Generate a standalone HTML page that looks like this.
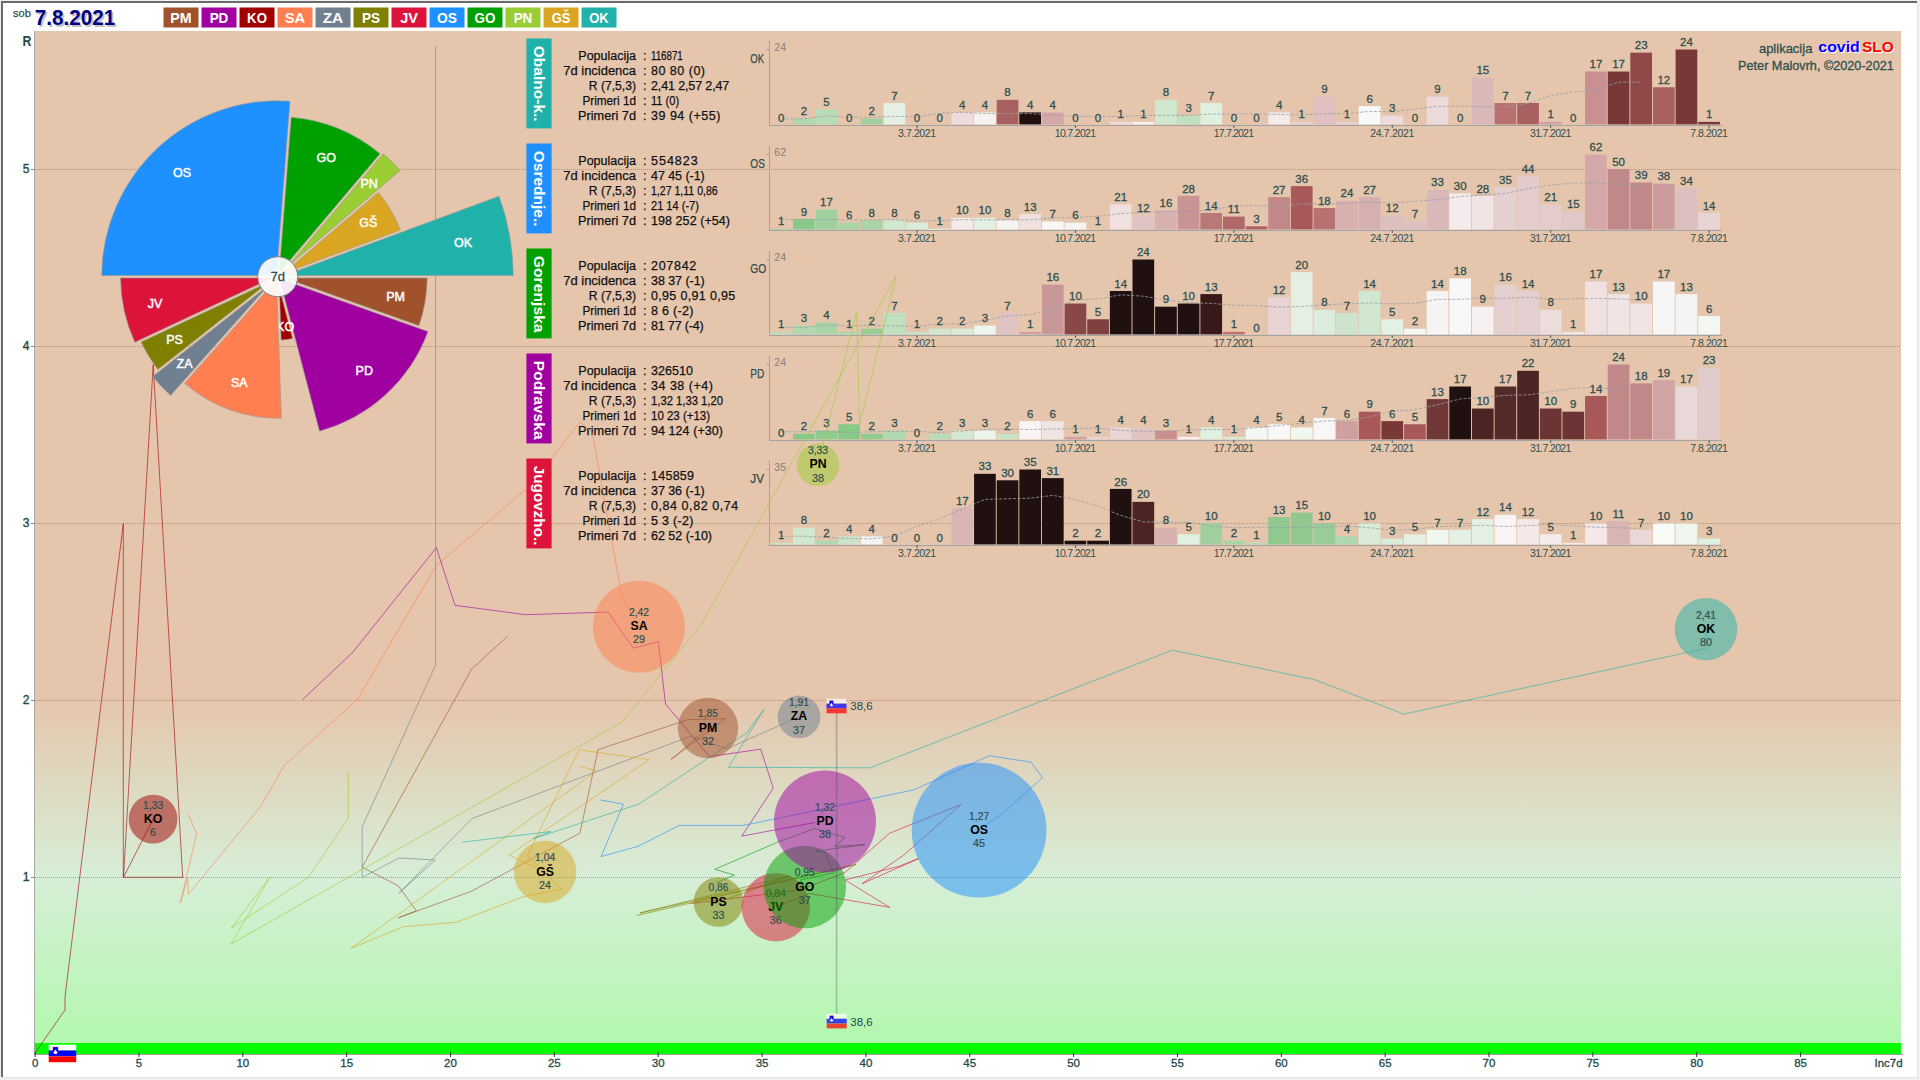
<!DOCTYPE html><html><head><meta charset="utf-8"><title>covidSLO</title><style>
html,body{margin:0;padding:0;background:#f0f0f0;}
body{width:1920px;height:1080px;overflow:hidden;position:relative;font-family:"Liberation Sans", sans-serif;}
svg{position:absolute;left:0;top:0;}
svg text{font-family:"Liberation Sans", sans-serif;}
</style></head><body>
<svg width="1920" height="1080" viewBox="0 0 1920 1080">
<defs>
<linearGradient id="bgg" x1="0" y1="31" x2="0" y2="1043" gradientUnits="userSpaceOnUse"><stop offset="0" stop-color="#E5C6AD"/><stop offset="0.6611" stop-color="#E5C6AD"/><stop offset="0.8360" stop-color="#D7EED7"/><stop offset="1" stop-color="#B2F8AE"/></linearGradient>
<clipPath id="plotclip"><rect x="35" y="31" width="1866" height="1023"/></clipPath>
</defs>
<rect x="1" y="1" width="1917" height="1077" fill="#ffffff"/>
<rect x="1" y="1" width="1917" height="2" fill="#6a6a6a"/>
<rect x="1" y="1" width="2" height="1077" fill="#6a6a6a"/>
<rect x="1917" y="1" width="1" height="1077" fill="#e3e3e3"/>
<rect x="1" y="1077" width="1917" height="1" fill="#e3e3e3"/>
<text x="13" y="17.4" font-size="11" fill="#2F4F4F" stroke="#2F4F4F" stroke-width="0.25" textLength="17.8" lengthAdjust="spacingAndGlyphs">sob</text>
<text x="36.4" y="26.8" font-size="22" font-weight="bold" fill="#c4c4c4" textLength="80.5" lengthAdjust="spacingAndGlyphs">7.8.2021</text>
<text x="34.8" y="25.3" font-size="22" font-weight="bold" fill="#000080" textLength="80.5" lengthAdjust="spacingAndGlyphs">7.8.2021</text>
<rect x="163.5" y="7.5" width="35" height="20" fill="#A0522D"/>
<text x="181" y="23.1" font-size="15.5" font-weight="bold" fill="#fff" text-anchor="middle" textLength="21.3" lengthAdjust="spacingAndGlyphs">PM</text>
<rect x="201.5" y="7.5" width="35" height="20" fill="#A000A0"/>
<text x="219" y="23.1" font-size="15.5" font-weight="bold" fill="#fff" text-anchor="middle" textLength="18.7" lengthAdjust="spacingAndGlyphs">PD</text>
<rect x="239.5" y="7.5" width="35" height="20" fill="#A00000"/>
<text x="257" y="23.1" font-size="15.5" font-weight="bold" fill="#fff" text-anchor="middle" textLength="19.8" lengthAdjust="spacingAndGlyphs">KO</text>
<rect x="277.5" y="7.5" width="35" height="20" fill="#FF7F50"/>
<text x="295" y="23.1" font-size="15.5" font-weight="bold" fill="#fff" text-anchor="middle" textLength="20.6" lengthAdjust="spacingAndGlyphs">SA</text>
<rect x="315.5" y="7.5" width="35" height="20" fill="#708090"/>
<text x="333" y="23.1" font-size="15.5" font-weight="bold" fill="#fff" text-anchor="middle" textLength="20.6" lengthAdjust="spacingAndGlyphs">ZA</text>
<rect x="353.5" y="7.5" width="35" height="20" fill="#808000"/>
<text x="371" y="23.1" font-size="15.5" font-weight="bold" fill="#fff" text-anchor="middle" textLength="18.1" lengthAdjust="spacingAndGlyphs">PS</text>
<rect x="391.5" y="7.5" width="35" height="20" fill="#DC143C"/>
<text x="409" y="23.1" font-size="15.5" font-weight="bold" fill="#fff" text-anchor="middle" textLength="17.75" lengthAdjust="spacingAndGlyphs">JV</text>
<rect x="429.5" y="7.5" width="35" height="20" fill="#1E90FF"/>
<text x="447" y="23.1" font-size="15.5" font-weight="bold" fill="#fff" text-anchor="middle" textLength="20" lengthAdjust="spacingAndGlyphs">OS</text>
<rect x="467.5" y="7.5" width="35" height="20" fill="#00A000"/>
<text x="485" y="23.1" font-size="15.5" font-weight="bold" fill="#fff" text-anchor="middle" textLength="20.9" lengthAdjust="spacingAndGlyphs">GO</text>
<rect x="505.5" y="7.5" width="35" height="20" fill="#9ACD32"/>
<text x="523" y="23.1" font-size="15.5" font-weight="bold" fill="#fff" text-anchor="middle" textLength="18.75" lengthAdjust="spacingAndGlyphs">PN</text>
<rect x="543.5" y="7.5" width="35" height="20" fill="#DAA520"/>
<text x="561" y="23.1" font-size="15.5" font-weight="bold" fill="#fff" text-anchor="middle" textLength="18.75" lengthAdjust="spacingAndGlyphs">GŠ</text>
<rect x="581.5" y="7.5" width="35" height="20" fill="#20B2AA"/>
<text x="599" y="23.1" font-size="15.5" font-weight="bold" fill="#fff" text-anchor="middle" textLength="19.4" lengthAdjust="spacingAndGlyphs">OK</text>
<rect x="35" y="31" width="1866" height="1012" fill="url(#bgg)"/>
<rect x="35" y="1043" width="1866" height="11" fill="#00FF00"/>
<rect x="34" y="31" width="1" height="1024" fill="#a8a8a8"/>
<rect x="35" y="1054" width="1868" height="1" fill="#a0a0a0"/>
<line x1="35" y1="877.5" x2="1901" y2="877.5" stroke="#8c8c94" stroke-width="1" stroke-dasharray="1 1" opacity="0.8"/>
<line x1="31" y1="877.5" x2="34" y2="877.5" stroke="#888" stroke-width="1"/>
<text x="29.5" y="881.1" font-size="12" fill="#1F4A48" stroke="#1F4A48" stroke-width="0.35" text-anchor="end">1</text>
<line x1="35" y1="700.5" x2="1901" y2="700.5" stroke="#8c8c94" stroke-width="1" stroke-dasharray="1 1" opacity="0.8"/>
<line x1="31" y1="700.5" x2="34" y2="700.5" stroke="#888" stroke-width="1"/>
<text x="29.5" y="704.1" font-size="12" fill="#1F4A48" stroke="#1F4A48" stroke-width="0.35" text-anchor="end">2</text>
<line x1="35" y1="523.5" x2="1901" y2="523.5" stroke="#8c8c94" stroke-width="1" stroke-dasharray="1 1" opacity="0.8"/>
<line x1="31" y1="523.5" x2="34" y2="523.5" stroke="#888" stroke-width="1"/>
<text x="29.5" y="527.1" font-size="12" fill="#1F4A48" stroke="#1F4A48" stroke-width="0.35" text-anchor="end">3</text>
<line x1="35" y1="346.5" x2="1901" y2="346.5" stroke="#8c8c94" stroke-width="1" stroke-dasharray="1 1" opacity="0.8"/>
<line x1="31" y1="346.5" x2="34" y2="346.5" stroke="#888" stroke-width="1"/>
<text x="29.5" y="350.1" font-size="12" fill="#1F4A48" stroke="#1F4A48" stroke-width="0.35" text-anchor="end">4</text>
<line x1="35" y1="169.5" x2="1901" y2="169.5" stroke="#8c8c94" stroke-width="1" stroke-dasharray="1 1" opacity="0.8"/>
<line x1="31" y1="169.5" x2="34" y2="169.5" stroke="#888" stroke-width="1"/>
<text x="29.5" y="173.1" font-size="12" fill="#1F4A48" stroke="#1F4A48" stroke-width="0.35" text-anchor="end">5</text>
<text x="22.4" y="45.8" font-size="15.5" font-weight="bold" fill="#1F4A48" textLength="8.9" lengthAdjust="spacingAndGlyphs">R</text>
<line x1="35.1" y1="1052" x2="35.1" y2="1057" stroke="#333" stroke-width="1"/>
<text x="35.1" y="1067.3" font-size="11.5" fill="#1F4A48" stroke="#1F4A48" stroke-width="0.3" text-anchor="middle">0</text>
<line x1="138.95" y1="1052" x2="138.95" y2="1057" stroke="#333" stroke-width="1"/>
<text x="138.95" y="1067.3" font-size="11.5" fill="#1F4A48" stroke="#1F4A48" stroke-width="0.3" text-anchor="middle">5</text>
<line x1="242.8" y1="1052" x2="242.8" y2="1057" stroke="#333" stroke-width="1"/>
<text x="242.8" y="1067.3" font-size="11.5" fill="#1F4A48" stroke="#1F4A48" stroke-width="0.3" text-anchor="middle">10</text>
<line x1="346.65" y1="1052" x2="346.65" y2="1057" stroke="#333" stroke-width="1"/>
<text x="346.65" y="1067.3" font-size="11.5" fill="#1F4A48" stroke="#1F4A48" stroke-width="0.3" text-anchor="middle">15</text>
<line x1="450.5" y1="1052" x2="450.5" y2="1057" stroke="#333" stroke-width="1"/>
<text x="450.5" y="1067.3" font-size="11.5" fill="#1F4A48" stroke="#1F4A48" stroke-width="0.3" text-anchor="middle">20</text>
<line x1="554.35" y1="1052" x2="554.35" y2="1057" stroke="#333" stroke-width="1"/>
<text x="554.35" y="1067.3" font-size="11.5" fill="#1F4A48" stroke="#1F4A48" stroke-width="0.3" text-anchor="middle">25</text>
<line x1="658.2" y1="1052" x2="658.2" y2="1057" stroke="#333" stroke-width="1"/>
<text x="658.2" y="1067.3" font-size="11.5" fill="#1F4A48" stroke="#1F4A48" stroke-width="0.3" text-anchor="middle">30</text>
<line x1="762.05" y1="1052" x2="762.05" y2="1057" stroke="#333" stroke-width="1"/>
<text x="762.05" y="1067.3" font-size="11.5" fill="#1F4A48" stroke="#1F4A48" stroke-width="0.3" text-anchor="middle">35</text>
<line x1="865.9" y1="1052" x2="865.9" y2="1057" stroke="#333" stroke-width="1"/>
<text x="865.9" y="1067.3" font-size="11.5" fill="#1F4A48" stroke="#1F4A48" stroke-width="0.3" text-anchor="middle">40</text>
<line x1="969.75" y1="1052" x2="969.75" y2="1057" stroke="#333" stroke-width="1"/>
<text x="969.75" y="1067.3" font-size="11.5" fill="#1F4A48" stroke="#1F4A48" stroke-width="0.3" text-anchor="middle">45</text>
<line x1="1073.6" y1="1052" x2="1073.6" y2="1057" stroke="#333" stroke-width="1"/>
<text x="1073.6" y="1067.3" font-size="11.5" fill="#1F4A48" stroke="#1F4A48" stroke-width="0.3" text-anchor="middle">50</text>
<line x1="1177.45" y1="1052" x2="1177.45" y2="1057" stroke="#333" stroke-width="1"/>
<text x="1177.45" y="1067.3" font-size="11.5" fill="#1F4A48" stroke="#1F4A48" stroke-width="0.3" text-anchor="middle">55</text>
<line x1="1281.3" y1="1052" x2="1281.3" y2="1057" stroke="#333" stroke-width="1"/>
<text x="1281.3" y="1067.3" font-size="11.5" fill="#1F4A48" stroke="#1F4A48" stroke-width="0.3" text-anchor="middle">60</text>
<line x1="1385.15" y1="1052" x2="1385.15" y2="1057" stroke="#333" stroke-width="1"/>
<text x="1385.15" y="1067.3" font-size="11.5" fill="#1F4A48" stroke="#1F4A48" stroke-width="0.3" text-anchor="middle">65</text>
<line x1="1489" y1="1052" x2="1489" y2="1057" stroke="#333" stroke-width="1"/>
<text x="1489" y="1067.3" font-size="11.5" fill="#1F4A48" stroke="#1F4A48" stroke-width="0.3" text-anchor="middle">70</text>
<line x1="1592.85" y1="1052" x2="1592.85" y2="1057" stroke="#333" stroke-width="1"/>
<text x="1592.85" y="1067.3" font-size="11.5" fill="#1F4A48" stroke="#1F4A48" stroke-width="0.3" text-anchor="middle">75</text>
<line x1="1696.7" y1="1052" x2="1696.7" y2="1057" stroke="#333" stroke-width="1"/>
<text x="1696.7" y="1067.3" font-size="11.5" fill="#1F4A48" stroke="#1F4A48" stroke-width="0.3" text-anchor="middle">80</text>
<line x1="1800.55" y1="1052" x2="1800.55" y2="1057" stroke="#333" stroke-width="1"/>
<text x="1800.55" y="1067.3" font-size="11.5" fill="#1F4A48" stroke="#1F4A48" stroke-width="0.3" text-anchor="middle">85</text>
<text x="1902.5" y="1067.3" font-size="11.5" fill="#1F4A48" stroke="#1F4A48" stroke-width="0.3" text-anchor="end" textLength="28" lengthAdjust="spacingAndGlyphs">Inc7d</text>
<text x="636" y="59.8" font-size="12.5" fill="#111" stroke="#111" stroke-width="0.25" text-anchor="end" textLength="57.7" lengthAdjust="spacingAndGlyphs">Populacija</text>
<text x="643" y="59.8" font-size="12.5" fill="#111" stroke="#111" stroke-width="0.25">:</text>
<text x="651" y="59.8" font-size="12.5" fill="#111" stroke="#111" stroke-width="0.25" textLength="31.8" lengthAdjust="spacingAndGlyphs">116871</text>
<text x="636" y="74.8" font-size="12.5" fill="#111" stroke="#111" stroke-width="0.25" text-anchor="end" textLength="72.7" lengthAdjust="spacingAndGlyphs">7d incidenca</text>
<text x="643" y="74.8" font-size="12.5" fill="#111" stroke="#111" stroke-width="0.25">:</text>
<text x="651" y="74.8" font-size="12.5" fill="#111" stroke="#111" stroke-width="0.25" textLength="54" lengthAdjust="spacing">80 80 (0)</text>
<text x="636" y="89.8" font-size="12.5" fill="#111" stroke="#111" stroke-width="0.25" text-anchor="end" textLength="47.2" lengthAdjust="spacingAndGlyphs">R (7,5,3)</text>
<text x="643" y="89.8" font-size="12.5" fill="#111" stroke="#111" stroke-width="0.25">:</text>
<text x="651" y="89.8" font-size="12.5" fill="#111" stroke="#111" stroke-width="0.25" textLength="78.3" lengthAdjust="spacing">2,41 2,57 2,47</text>
<text x="636" y="104.8" font-size="12.5" fill="#111" stroke="#111" stroke-width="0.25" text-anchor="end" textLength="53.6" lengthAdjust="spacingAndGlyphs">Primeri 1d</text>
<text x="643" y="104.8" font-size="12.5" fill="#111" stroke="#111" stroke-width="0.25">:</text>
<text x="651" y="104.8" font-size="12.5" fill="#111" stroke="#111" stroke-width="0.25" textLength="28.2" lengthAdjust="spacingAndGlyphs">11 (0)</text>
<text x="636" y="119.8" font-size="12.5" fill="#111" stroke="#111" stroke-width="0.25" text-anchor="end" textLength="58" lengthAdjust="spacingAndGlyphs">Primeri 7d</text>
<text x="643" y="119.8" font-size="12.5" fill="#111" stroke="#111" stroke-width="0.25">:</text>
<text x="651" y="119.8" font-size="12.5" fill="#111" stroke="#111" stroke-width="0.25" textLength="69.3" lengthAdjust="spacing">39 94 (+55)</text>
<rect x="769" y="40.5" width="1" height="85.5" fill="#a0a4a8"/>
<rect x="769" y="125" width="953" height="1" fill="#a0a4a8"/>
<line x1="766.5" y1="49.5" x2="769" y2="49.5" stroke="#a0a4a8" stroke-width="1"/>
<text x="774.3" y="51" font-size="10.5" fill="#808080">24</text>
<text x="750.3" y="63.2" font-size="12" fill="#2F4F4F" stroke="#2F4F4F" stroke-width="0.25" textLength="13.7" lengthAdjust="spacingAndGlyphs">OK</text>
<rect x="793.03" y="118.71" width="21.7" height="5.69" fill="#b0d8b0"/>
<rect x="815.66" y="109.27" width="21.7" height="15.13" fill="#b8dcb8"/>
<rect x="860.92" y="118.71" width="21.7" height="5.69" fill="#a0d0a0"/>
<rect x="883.55" y="102.98" width="21.7" height="21.42" fill="#e4f0e4"/>
<rect x="951.44" y="112.42" width="21.7" height="11.98" fill="#eedcdc"/>
<rect x="974.07" y="112.42" width="21.7" height="11.98" fill="#f6f2f2"/>
<rect x="996.7" y="99.83" width="21.7" height="24.57" fill="#a86060"/>
<rect x="1019.33" y="112.42" width="21.7" height="11.98" fill="#201010"/>
<rect x="1041.96" y="112.42" width="21.7" height="11.98" fill="#d4a8a8"/>
<rect x="1109.85" y="121.85" width="21.7" height="2.55" fill="#eedcdc"/>
<rect x="1132.48" y="121.85" width="21.7" height="2.55" fill="#f6f0f0"/>
<rect x="1155.11" y="99.83" width="21.7" height="24.57" fill="#d0e8d0"/>
<rect x="1177.74" y="115.56" width="21.7" height="8.84" fill="#c0e0c0"/>
<rect x="1200.37" y="102.98" width="21.7" height="21.42" fill="#e0f0e0"/>
<rect x="1268.26" y="112.42" width="21.7" height="11.98" fill="#f4eaea"/>
<rect x="1290.89" y="121.85" width="21.7" height="2.55" fill="#e8d0d0"/>
<rect x="1313.52" y="96.69" width="21.7" height="27.71" fill="#e0c0c0"/>
<rect x="1336.15" y="121.85" width="21.7" height="2.55" fill="#e8d0d0"/>
<rect x="1358.78" y="106.12" width="21.7" height="18.28" fill="#f8f8f8"/>
<rect x="1381.41" y="115.56" width="21.7" height="8.84" fill="#ecdcdc"/>
<rect x="1426.67" y="96.69" width="21.7" height="27.71" fill="#ecdada"/>
<rect x="1471.93" y="77.81" width="21.7" height="46.59" fill="#d8b8b8"/>
<rect x="1494.56" y="102.98" width="21.7" height="21.42" fill="#b87070"/>
<rect x="1517.19" y="102.98" width="21.7" height="21.42" fill="#a86060"/>
<rect x="1539.82" y="121.85" width="21.7" height="2.55" fill="#d0a0a0"/>
<rect x="1585.08" y="71.52" width="21.7" height="52.88" fill="#c89090"/>
<rect x="1607.71" y="71.52" width="21.7" height="52.88" fill="#783838"/>
<rect x="1630.34" y="52.65" width="21.7" height="71.75" fill="#904848"/>
<rect x="1652.97" y="87.25" width="21.7" height="37.15" fill="#a86060"/>
<rect x="1675.6" y="49.5" width="21.7" height="74.9" fill="#783838"/>
<rect x="1698.23" y="121.85" width="21.7" height="2.55" fill="#783838"/>
<polyline points="781.25,118.89 803.88,118.74 826.51,116.01 849.14,117.21 871.77,117.21 894.4,116.31 917.03,116.76 939.66,113.16 962.29,112.27 984.92,113.61 1007.55,113.61 1030.18,113.61 1052.81,114.96 1075.44,116.31 1098.07,116.31 1120.7,116.76 1143.33,115.41 1165.96,115.41 1188.59,115.41 1211.22,114.06 1233.85,114.06 1256.48,113.61 1279.11,114.51 1301.74,114.96 1324.37,113.61 1347,113.61 1369.63,111.37 1392.26,111.82 1414.89,109.12 1437.52,106.42 1460.15,105.97 1482.78,106.87 1505.41,106.87 1528.04,103.28 1550.67,95.64 1573.3,92.04 1595.93,89.8 1618.56,82.16 1641.19,82.16" fill="none" stroke="#98a0a8" stroke-width="1" stroke-dasharray="3 1.6" opacity="0.8"/>
<text x="781.25" y="121.6" font-size="11.5" fill="#2F4F4F" stroke="#2F4F4F" stroke-width="0.3" text-anchor="middle">0</text>
<text x="803.88" y="115.31" font-size="11.5" fill="#2F4F4F" stroke="#2F4F4F" stroke-width="0.3" text-anchor="middle">2</text>
<text x="826.51" y="105.87" font-size="11.5" fill="#2F4F4F" stroke="#2F4F4F" stroke-width="0.3" text-anchor="middle">5</text>
<text x="849.14" y="121.6" font-size="11.5" fill="#2F4F4F" stroke="#2F4F4F" stroke-width="0.3" text-anchor="middle">0</text>
<text x="871.77" y="115.31" font-size="11.5" fill="#2F4F4F" stroke="#2F4F4F" stroke-width="0.3" text-anchor="middle">2</text>
<text x="894.4" y="99.58" font-size="11.5" fill="#2F4F4F" stroke="#2F4F4F" stroke-width="0.3" text-anchor="middle">7</text>
<text x="917.03" y="121.6" font-size="11.5" fill="#2F4F4F" stroke="#2F4F4F" stroke-width="0.3" text-anchor="middle">0</text>
<text x="939.66" y="121.6" font-size="11.5" fill="#2F4F4F" stroke="#2F4F4F" stroke-width="0.3" text-anchor="middle">0</text>
<text x="962.29" y="109.02" font-size="11.5" fill="#2F4F4F" stroke="#2F4F4F" stroke-width="0.3" text-anchor="middle">4</text>
<text x="984.92" y="109.02" font-size="11.5" fill="#2F4F4F" stroke="#2F4F4F" stroke-width="0.3" text-anchor="middle">4</text>
<text x="1007.55" y="96.43" font-size="11.5" fill="#2F4F4F" stroke="#2F4F4F" stroke-width="0.3" text-anchor="middle">8</text>
<text x="1030.18" y="109.02" font-size="11.5" fill="#2F4F4F" stroke="#2F4F4F" stroke-width="0.3" text-anchor="middle">4</text>
<text x="1052.81" y="109.02" font-size="11.5" fill="#2F4F4F" stroke="#2F4F4F" stroke-width="0.3" text-anchor="middle">4</text>
<text x="1075.44" y="121.6" font-size="11.5" fill="#2F4F4F" stroke="#2F4F4F" stroke-width="0.3" text-anchor="middle">0</text>
<text x="1098.07" y="121.6" font-size="11.5" fill="#2F4F4F" stroke="#2F4F4F" stroke-width="0.3" text-anchor="middle">0</text>
<text x="1120.7" y="118.45" font-size="11.5" fill="#2F4F4F" stroke="#2F4F4F" stroke-width="0.3" text-anchor="middle">1</text>
<text x="1143.33" y="118.45" font-size="11.5" fill="#2F4F4F" stroke="#2F4F4F" stroke-width="0.3" text-anchor="middle">1</text>
<text x="1165.96" y="96.43" font-size="11.5" fill="#2F4F4F" stroke="#2F4F4F" stroke-width="0.3" text-anchor="middle">8</text>
<text x="1188.59" y="112.16" font-size="11.5" fill="#2F4F4F" stroke="#2F4F4F" stroke-width="0.3" text-anchor="middle">3</text>
<text x="1211.22" y="99.58" font-size="11.5" fill="#2F4F4F" stroke="#2F4F4F" stroke-width="0.3" text-anchor="middle">7</text>
<text x="1233.85" y="121.6" font-size="11.5" fill="#2F4F4F" stroke="#2F4F4F" stroke-width="0.3" text-anchor="middle">0</text>
<text x="1256.48" y="121.6" font-size="11.5" fill="#2F4F4F" stroke="#2F4F4F" stroke-width="0.3" text-anchor="middle">0</text>
<text x="1279.11" y="109.02" font-size="11.5" fill="#2F4F4F" stroke="#2F4F4F" stroke-width="0.3" text-anchor="middle">4</text>
<text x="1301.74" y="118.45" font-size="11.5" fill="#2F4F4F" stroke="#2F4F4F" stroke-width="0.3" text-anchor="middle">1</text>
<text x="1324.37" y="93.29" font-size="11.5" fill="#2F4F4F" stroke="#2F4F4F" stroke-width="0.3" text-anchor="middle">9</text>
<text x="1347" y="118.45" font-size="11.5" fill="#2F4F4F" stroke="#2F4F4F" stroke-width="0.3" text-anchor="middle">1</text>
<text x="1369.63" y="102.73" font-size="11.5" fill="#2F4F4F" stroke="#2F4F4F" stroke-width="0.3" text-anchor="middle">6</text>
<text x="1392.26" y="112.16" font-size="11.5" fill="#2F4F4F" stroke="#2F4F4F" stroke-width="0.3" text-anchor="middle">3</text>
<text x="1414.89" y="121.6" font-size="11.5" fill="#2F4F4F" stroke="#2F4F4F" stroke-width="0.3" text-anchor="middle">0</text>
<text x="1437.52" y="93.29" font-size="11.5" fill="#2F4F4F" stroke="#2F4F4F" stroke-width="0.3" text-anchor="middle">9</text>
<text x="1460.15" y="121.6" font-size="11.5" fill="#2F4F4F" stroke="#2F4F4F" stroke-width="0.3" text-anchor="middle">0</text>
<text x="1482.78" y="74.41" font-size="11.5" fill="#2F4F4F" stroke="#2F4F4F" stroke-width="0.3" text-anchor="middle">15</text>
<text x="1505.41" y="99.58" font-size="11.5" fill="#2F4F4F" stroke="#2F4F4F" stroke-width="0.3" text-anchor="middle">7</text>
<text x="1528.04" y="99.58" font-size="11.5" fill="#2F4F4F" stroke="#2F4F4F" stroke-width="0.3" text-anchor="middle">7</text>
<text x="1550.67" y="118.45" font-size="11.5" fill="#2F4F4F" stroke="#2F4F4F" stroke-width="0.3" text-anchor="middle">1</text>
<text x="1573.3" y="121.6" font-size="11.5" fill="#2F4F4F" stroke="#2F4F4F" stroke-width="0.3" text-anchor="middle">0</text>
<text x="1595.93" y="68.12" font-size="11.5" fill="#2F4F4F" stroke="#2F4F4F" stroke-width="0.3" text-anchor="middle">17</text>
<text x="1618.56" y="68.12" font-size="11.5" fill="#2F4F4F" stroke="#2F4F4F" stroke-width="0.3" text-anchor="middle">17</text>
<text x="1641.19" y="49.25" font-size="11.5" fill="#2F4F4F" stroke="#2F4F4F" stroke-width="0.3" text-anchor="middle">23</text>
<text x="1663.82" y="83.85" font-size="11.5" fill="#2F4F4F" stroke="#2F4F4F" stroke-width="0.3" text-anchor="middle">12</text>
<text x="1686.45" y="46.1" font-size="11.5" fill="#2F4F4F" stroke="#2F4F4F" stroke-width="0.3" text-anchor="middle">24</text>
<text x="1709.08" y="118.45" font-size="11.5" fill="#2F4F4F" stroke="#2F4F4F" stroke-width="0.3" text-anchor="middle">1</text>
<line x1="917.03" y1="125.5" x2="917.03" y2="127.8" stroke="#2F4F4F" stroke-width="1"/>
<text x="917.03" y="137" font-size="10.5" fill="#2F4F4F" text-anchor="middle" textLength="37.9" lengthAdjust="spacing">3.7.2021</text>
<line x1="1075.44" y1="125.5" x2="1075.44" y2="127.8" stroke="#2F4F4F" stroke-width="1"/>
<text x="1075.44" y="137" font-size="10.5" fill="#2F4F4F" text-anchor="middle" textLength="41.3" lengthAdjust="spacing">10.7.2021</text>
<line x1="1233.85" y1="125.5" x2="1233.85" y2="127.8" stroke="#2F4F4F" stroke-width="1"/>
<text x="1233.85" y="137" font-size="10.5" fill="#2F4F4F" text-anchor="middle" textLength="40.3" lengthAdjust="spacing">17.7.2021</text>
<line x1="1392.26" y1="125.5" x2="1392.26" y2="127.8" stroke="#2F4F4F" stroke-width="1"/>
<text x="1392.26" y="137" font-size="10.5" fill="#2F4F4F" text-anchor="middle" textLength="44.1" lengthAdjust="spacing">24.7.2021</text>
<line x1="1550.67" y1="125.5" x2="1550.67" y2="127.8" stroke="#2F4F4F" stroke-width="1"/>
<text x="1550.67" y="137" font-size="10.5" fill="#2F4F4F" text-anchor="middle" textLength="41.3" lengthAdjust="spacing">31.7.2021</text>
<line x1="1709.08" y1="125.5" x2="1709.08" y2="127.8" stroke="#2F4F4F" stroke-width="1"/>
<text x="1709.08" y="137" font-size="10.5" fill="#2F4F4F" text-anchor="middle" textLength="37.5" lengthAdjust="spacing">7.8.2021</text>
<text x="636" y="164.8" font-size="12.5" fill="#111" stroke="#111" stroke-width="0.25" text-anchor="end" textLength="57.7" lengthAdjust="spacingAndGlyphs">Populacija</text>
<text x="643" y="164.8" font-size="12.5" fill="#111" stroke="#111" stroke-width="0.25">:</text>
<text x="651" y="164.8" font-size="12.5" fill="#111" stroke="#111" stroke-width="0.25" textLength="46.7" lengthAdjust="spacing">554823</text>
<text x="636" y="179.8" font-size="12.5" fill="#111" stroke="#111" stroke-width="0.25" text-anchor="end" textLength="72.7" lengthAdjust="spacingAndGlyphs">7d incidenca</text>
<text x="643" y="179.8" font-size="12.5" fill="#111" stroke="#111" stroke-width="0.25">:</text>
<text x="651" y="179.8" font-size="12.5" fill="#111" stroke="#111" stroke-width="0.25" textLength="53.7" lengthAdjust="spacing">47 45 (-1)</text>
<text x="636" y="194.8" font-size="12.5" fill="#111" stroke="#111" stroke-width="0.25" text-anchor="end" textLength="47.2" lengthAdjust="spacingAndGlyphs">R (7,5,3)</text>
<text x="643" y="194.8" font-size="12.5" fill="#111" stroke="#111" stroke-width="0.25">:</text>
<text x="651" y="194.8" font-size="12.5" fill="#111" stroke="#111" stroke-width="0.25" textLength="66.7" lengthAdjust="spacingAndGlyphs">1,27 1,11 0,86</text>
<text x="636" y="209.8" font-size="12.5" fill="#111" stroke="#111" stroke-width="0.25" text-anchor="end" textLength="53.6" lengthAdjust="spacingAndGlyphs">Primeri 1d</text>
<text x="643" y="209.8" font-size="12.5" fill="#111" stroke="#111" stroke-width="0.25">:</text>
<text x="651" y="209.8" font-size="12.5" fill="#111" stroke="#111" stroke-width="0.25" textLength="47.9" lengthAdjust="spacingAndGlyphs">21 14 (-7)</text>
<text x="636" y="224.8" font-size="12.5" fill="#111" stroke="#111" stroke-width="0.25" text-anchor="end" textLength="58" lengthAdjust="spacingAndGlyphs">Primeri 7d</text>
<text x="643" y="224.8" font-size="12.5" fill="#111" stroke="#111" stroke-width="0.25">:</text>
<text x="651" y="224.8" font-size="12.5" fill="#111" stroke="#111" stroke-width="0.25" textLength="79" lengthAdjust="spacing">198 252 (+54)</text>
<rect x="769" y="145.5" width="1" height="85.5" fill="#a0a4a8"/>
<rect x="769" y="230" width="953" height="1" fill="#a0a4a8"/>
<line x1="766.5" y1="154.5" x2="769" y2="154.5" stroke="#a0a4a8" stroke-width="1"/>
<text x="774.3" y="156" font-size="10.5" fill="#808080">62</text>
<text x="750.3" y="168.2" font-size="12" fill="#2F4F4F" stroke="#2F4F4F" stroke-width="0.25" textLength="14.6" lengthAdjust="spacingAndGlyphs">OS</text>
<rect x="770.4" y="228.78" width="21.7" height="1" fill="#a8d4a8"/>
<rect x="793.03" y="219.04" width="21.7" height="10.36" fill="#88c888"/>
<rect x="815.66" y="209.3" width="21.7" height="20.1" fill="#a0d0a0"/>
<rect x="838.29" y="222.69" width="21.7" height="6.71" fill="#a8d4a8"/>
<rect x="860.92" y="220.26" width="21.7" height="9.14" fill="#a8d4a8"/>
<rect x="883.55" y="220.26" width="21.7" height="9.14" fill="#d0e8d0"/>
<rect x="906.18" y="222.69" width="21.7" height="6.71" fill="#dcecdc"/>
<rect x="928.81" y="228.78" width="21.7" height="1" fill="#e0f0e0"/>
<rect x="951.44" y="217.82" width="21.7" height="11.58" fill="#f4eaea"/>
<rect x="974.07" y="217.82" width="21.7" height="11.58" fill="#e4f0e4"/>
<rect x="996.7" y="220.26" width="21.7" height="9.14" fill="#f4f4f4"/>
<rect x="1019.33" y="214.17" width="21.7" height="15.23" fill="#f0e0e0"/>
<rect x="1041.96" y="221.48" width="21.7" height="7.92" fill="#f8f8f8"/>
<rect x="1064.59" y="222.69" width="21.7" height="6.71" fill="#f4f4f4"/>
<rect x="1109.85" y="204.43" width="21.7" height="24.97" fill="#f0e0e0"/>
<rect x="1132.48" y="215.39" width="21.7" height="14.01" fill="#e0c4c4"/>
<rect x="1155.11" y="210.52" width="21.7" height="18.88" fill="#d8b0b0"/>
<rect x="1177.74" y="195.9" width="21.7" height="33.5" fill="#c89494"/>
<rect x="1200.37" y="212.95" width="21.7" height="16.45" fill="#b87878"/>
<rect x="1223" y="216.6" width="21.7" height="12.8" fill="#b06868"/>
<rect x="1245.63" y="226.35" width="21.7" height="3.05" fill="#b06060"/>
<rect x="1268.26" y="197.12" width="21.7" height="32.28" fill="#c08888"/>
<rect x="1290.89" y="186.16" width="21.7" height="43.24" fill="#a85858"/>
<rect x="1313.52" y="208.08" width="21.7" height="21.32" fill="#b87070"/>
<rect x="1336.15" y="200.77" width="21.7" height="28.63" fill="#d8b0b0"/>
<rect x="1358.78" y="197.12" width="21.7" height="32.28" fill="#d4b0b0"/>
<rect x="1381.41" y="215.39" width="21.7" height="14.01" fill="#dcc0c0"/>
<rect x="1404.04" y="221.48" width="21.7" height="7.92" fill="#dcc0c0"/>
<rect x="1426.67" y="189.81" width="21.7" height="39.59" fill="#d8b8b8"/>
<rect x="1449.3" y="193.47" width="21.7" height="35.93" fill="#f4ecec"/>
<rect x="1471.93" y="195.9" width="21.7" height="33.5" fill="#f0e4e4"/>
<rect x="1494.56" y="187.38" width="21.7" height="42.02" fill="#e4d0d0"/>
<rect x="1517.19" y="176.42" width="21.7" height="52.98" fill="#e4cccc"/>
<rect x="1539.82" y="204.43" width="21.7" height="24.97" fill="#e4cccc"/>
<rect x="1562.45" y="211.73" width="21.7" height="17.67" fill="#e0c8c8"/>
<rect x="1585.08" y="154.5" width="21.7" height="74.9" fill="#d4a8a8"/>
<rect x="1607.71" y="169.11" width="21.7" height="60.29" fill="#c08888"/>
<rect x="1630.34" y="182.51" width="21.7" height="46.89" fill="#c08888"/>
<rect x="1652.97" y="183.73" width="21.7" height="45.67" fill="#cc9c9c"/>
<rect x="1675.6" y="188.6" width="21.7" height="40.8" fill="#dcc0c0"/>
<rect x="1698.23" y="212.95" width="21.7" height="16.45" fill="#e8d4d4"/>
<polyline points="781.25,219.35 803.88,219.41 826.51,219.46 849.14,219.83 871.77,219.83 894.4,219.66 917.03,220.88 939.66,220.53 962.29,219.66 984.92,219.83 1007.55,219.83 1030.18,219.83 1052.81,217.92 1075.44,217.57 1098.07,216.18 1120.7,213.57 1143.33,212.35 1165.96,211.48 1188.59,211.13 1211.22,210.09 1233.85,205.91 1256.48,205.57 1279.11,206.26 1301.74,204 1324.37,203.83 1347,203.13 1369.63,202.09 1392.26,203.13 1414.89,201.39 1437.52,199.48 1460.15,196.52 1482.78,194.96 1505.41,193.56 1528.04,188.52 1550.67,185.04 1573.3,183.13 1595.93,182.6 1618.56,184.34 1641.19,185.56" fill="none" stroke="#98a0a8" stroke-width="1" stroke-dasharray="3 1.6" opacity="0.8"/>
<text x="781.25" y="225.38" font-size="11.5" fill="#2F4F4F" stroke="#2F4F4F" stroke-width="0.3" text-anchor="middle">1</text>
<text x="803.88" y="215.64" font-size="11.5" fill="#2F4F4F" stroke="#2F4F4F" stroke-width="0.3" text-anchor="middle">9</text>
<text x="826.51" y="205.9" font-size="11.5" fill="#2F4F4F" stroke="#2F4F4F" stroke-width="0.3" text-anchor="middle">17</text>
<text x="849.14" y="219.29" font-size="11.5" fill="#2F4F4F" stroke="#2F4F4F" stroke-width="0.3" text-anchor="middle">6</text>
<text x="871.77" y="216.86" font-size="11.5" fill="#2F4F4F" stroke="#2F4F4F" stroke-width="0.3" text-anchor="middle">8</text>
<text x="894.4" y="216.86" font-size="11.5" fill="#2F4F4F" stroke="#2F4F4F" stroke-width="0.3" text-anchor="middle">8</text>
<text x="917.03" y="219.29" font-size="11.5" fill="#2F4F4F" stroke="#2F4F4F" stroke-width="0.3" text-anchor="middle">6</text>
<text x="939.66" y="225.38" font-size="11.5" fill="#2F4F4F" stroke="#2F4F4F" stroke-width="0.3" text-anchor="middle">1</text>
<text x="962.29" y="214.42" font-size="11.5" fill="#2F4F4F" stroke="#2F4F4F" stroke-width="0.3" text-anchor="middle">10</text>
<text x="984.92" y="214.42" font-size="11.5" fill="#2F4F4F" stroke="#2F4F4F" stroke-width="0.3" text-anchor="middle">10</text>
<text x="1007.55" y="216.86" font-size="11.5" fill="#2F4F4F" stroke="#2F4F4F" stroke-width="0.3" text-anchor="middle">8</text>
<text x="1030.18" y="210.77" font-size="11.5" fill="#2F4F4F" stroke="#2F4F4F" stroke-width="0.3" text-anchor="middle">13</text>
<text x="1052.81" y="218.08" font-size="11.5" fill="#2F4F4F" stroke="#2F4F4F" stroke-width="0.3" text-anchor="middle">7</text>
<text x="1075.44" y="219.29" font-size="11.5" fill="#2F4F4F" stroke="#2F4F4F" stroke-width="0.3" text-anchor="middle">6</text>
<text x="1098.07" y="225.38" font-size="11.5" fill="#2F4F4F" stroke="#2F4F4F" stroke-width="0.3" text-anchor="middle">1</text>
<text x="1120.7" y="201.03" font-size="11.5" fill="#2F4F4F" stroke="#2F4F4F" stroke-width="0.3" text-anchor="middle">21</text>
<text x="1143.33" y="211.99" font-size="11.5" fill="#2F4F4F" stroke="#2F4F4F" stroke-width="0.3" text-anchor="middle">12</text>
<text x="1165.96" y="207.12" font-size="11.5" fill="#2F4F4F" stroke="#2F4F4F" stroke-width="0.3" text-anchor="middle">16</text>
<text x="1188.59" y="192.5" font-size="11.5" fill="#2F4F4F" stroke="#2F4F4F" stroke-width="0.3" text-anchor="middle">28</text>
<text x="1211.22" y="209.55" font-size="11.5" fill="#2F4F4F" stroke="#2F4F4F" stroke-width="0.3" text-anchor="middle">14</text>
<text x="1233.85" y="213.2" font-size="11.5" fill="#2F4F4F" stroke="#2F4F4F" stroke-width="0.3" text-anchor="middle">11</text>
<text x="1256.48" y="222.95" font-size="11.5" fill="#2F4F4F" stroke="#2F4F4F" stroke-width="0.3" text-anchor="middle">3</text>
<text x="1279.11" y="193.72" font-size="11.5" fill="#2F4F4F" stroke="#2F4F4F" stroke-width="0.3" text-anchor="middle">27</text>
<text x="1301.74" y="182.76" font-size="11.5" fill="#2F4F4F" stroke="#2F4F4F" stroke-width="0.3" text-anchor="middle">36</text>
<text x="1324.37" y="204.68" font-size="11.5" fill="#2F4F4F" stroke="#2F4F4F" stroke-width="0.3" text-anchor="middle">18</text>
<text x="1347" y="197.37" font-size="11.5" fill="#2F4F4F" stroke="#2F4F4F" stroke-width="0.3" text-anchor="middle">24</text>
<text x="1369.63" y="193.72" font-size="11.5" fill="#2F4F4F" stroke="#2F4F4F" stroke-width="0.3" text-anchor="middle">27</text>
<text x="1392.26" y="211.99" font-size="11.5" fill="#2F4F4F" stroke="#2F4F4F" stroke-width="0.3" text-anchor="middle">12</text>
<text x="1414.89" y="218.08" font-size="11.5" fill="#2F4F4F" stroke="#2F4F4F" stroke-width="0.3" text-anchor="middle">7</text>
<text x="1437.52" y="186.41" font-size="11.5" fill="#2F4F4F" stroke="#2F4F4F" stroke-width="0.3" text-anchor="middle">33</text>
<text x="1460.15" y="190.07" font-size="11.5" fill="#2F4F4F" stroke="#2F4F4F" stroke-width="0.3" text-anchor="middle">30</text>
<text x="1482.78" y="192.5" font-size="11.5" fill="#2F4F4F" stroke="#2F4F4F" stroke-width="0.3" text-anchor="middle">28</text>
<text x="1505.41" y="183.98" font-size="11.5" fill="#2F4F4F" stroke="#2F4F4F" stroke-width="0.3" text-anchor="middle">35</text>
<text x="1528.04" y="173.02" font-size="11.5" fill="#2F4F4F" stroke="#2F4F4F" stroke-width="0.3" text-anchor="middle">44</text>
<text x="1550.67" y="201.03" font-size="11.5" fill="#2F4F4F" stroke="#2F4F4F" stroke-width="0.3" text-anchor="middle">21</text>
<text x="1573.3" y="208.33" font-size="11.5" fill="#2F4F4F" stroke="#2F4F4F" stroke-width="0.3" text-anchor="middle">15</text>
<text x="1595.93" y="151.1" font-size="11.5" fill="#2F4F4F" stroke="#2F4F4F" stroke-width="0.3" text-anchor="middle">62</text>
<text x="1618.56" y="165.71" font-size="11.5" fill="#2F4F4F" stroke="#2F4F4F" stroke-width="0.3" text-anchor="middle">50</text>
<text x="1641.19" y="179.11" font-size="11.5" fill="#2F4F4F" stroke="#2F4F4F" stroke-width="0.3" text-anchor="middle">39</text>
<text x="1663.82" y="180.33" font-size="11.5" fill="#2F4F4F" stroke="#2F4F4F" stroke-width="0.3" text-anchor="middle">38</text>
<text x="1686.45" y="185.2" font-size="11.5" fill="#2F4F4F" stroke="#2F4F4F" stroke-width="0.3" text-anchor="middle">34</text>
<text x="1709.08" y="209.55" font-size="11.5" fill="#2F4F4F" stroke="#2F4F4F" stroke-width="0.3" text-anchor="middle">14</text>
<line x1="917.03" y1="230.5" x2="917.03" y2="232.8" stroke="#2F4F4F" stroke-width="1"/>
<text x="917.03" y="242" font-size="10.5" fill="#2F4F4F" text-anchor="middle" textLength="37.9" lengthAdjust="spacing">3.7.2021</text>
<line x1="1075.44" y1="230.5" x2="1075.44" y2="232.8" stroke="#2F4F4F" stroke-width="1"/>
<text x="1075.44" y="242" font-size="10.5" fill="#2F4F4F" text-anchor="middle" textLength="41.3" lengthAdjust="spacing">10.7.2021</text>
<line x1="1233.85" y1="230.5" x2="1233.85" y2="232.8" stroke="#2F4F4F" stroke-width="1"/>
<text x="1233.85" y="242" font-size="10.5" fill="#2F4F4F" text-anchor="middle" textLength="40.3" lengthAdjust="spacing">17.7.2021</text>
<line x1="1392.26" y1="230.5" x2="1392.26" y2="232.8" stroke="#2F4F4F" stroke-width="1"/>
<text x="1392.26" y="242" font-size="10.5" fill="#2F4F4F" text-anchor="middle" textLength="44.1" lengthAdjust="spacing">24.7.2021</text>
<line x1="1550.67" y1="230.5" x2="1550.67" y2="232.8" stroke="#2F4F4F" stroke-width="1"/>
<text x="1550.67" y="242" font-size="10.5" fill="#2F4F4F" text-anchor="middle" textLength="41.3" lengthAdjust="spacing">31.7.2021</text>
<line x1="1709.08" y1="230.5" x2="1709.08" y2="232.8" stroke="#2F4F4F" stroke-width="1"/>
<text x="1709.08" y="242" font-size="10.5" fill="#2F4F4F" text-anchor="middle" textLength="37.5" lengthAdjust="spacing">7.8.2021</text>
<text x="636" y="269.8" font-size="12.5" fill="#111" stroke="#111" stroke-width="0.25" text-anchor="end" textLength="57.7" lengthAdjust="spacingAndGlyphs">Populacija</text>
<text x="643" y="269.8" font-size="12.5" fill="#111" stroke="#111" stroke-width="0.25">:</text>
<text x="651" y="269.8" font-size="12.5" fill="#111" stroke="#111" stroke-width="0.25" textLength="45.3" lengthAdjust="spacing">207842</text>
<text x="636" y="284.8" font-size="12.5" fill="#111" stroke="#111" stroke-width="0.25" text-anchor="end" textLength="72.7" lengthAdjust="spacingAndGlyphs">7d incidenca</text>
<text x="643" y="284.8" font-size="12.5" fill="#111" stroke="#111" stroke-width="0.25">:</text>
<text x="651" y="284.8" font-size="12.5" fill="#111" stroke="#111" stroke-width="0.25" textLength="53.7" lengthAdjust="spacing">38 37 (-1)</text>
<text x="636" y="299.8" font-size="12.5" fill="#111" stroke="#111" stroke-width="0.25" text-anchor="end" textLength="47.2" lengthAdjust="spacingAndGlyphs">R (7,5,3)</text>
<text x="643" y="299.8" font-size="12.5" fill="#111" stroke="#111" stroke-width="0.25">:</text>
<text x="651" y="299.8" font-size="12.5" fill="#111" stroke="#111" stroke-width="0.25" textLength="84.2" lengthAdjust="spacing">0,95 0,91 0,95</text>
<text x="636" y="314.8" font-size="12.5" fill="#111" stroke="#111" stroke-width="0.25" text-anchor="end" textLength="53.6" lengthAdjust="spacingAndGlyphs">Primeri 1d</text>
<text x="643" y="314.8" font-size="12.5" fill="#111" stroke="#111" stroke-width="0.25">:</text>
<text x="651" y="314.8" font-size="12.5" fill="#111" stroke="#111" stroke-width="0.25" textLength="42.4" lengthAdjust="spacing">8 6 (-2)</text>
<text x="636" y="329.8" font-size="12.5" fill="#111" stroke="#111" stroke-width="0.25" text-anchor="end" textLength="58" lengthAdjust="spacingAndGlyphs">Primeri 7d</text>
<text x="643" y="329.8" font-size="12.5" fill="#111" stroke="#111" stroke-width="0.25">:</text>
<text x="651" y="329.8" font-size="12.5" fill="#111" stroke="#111" stroke-width="0.25" textLength="52.7" lengthAdjust="spacing">81 77 (-4)</text>
<rect x="769" y="250.5" width="1" height="85.5" fill="#a0a4a8"/>
<rect x="769" y="335" width="953" height="1" fill="#a0a4a8"/>
<line x1="766.5" y1="259.5" x2="769" y2="259.5" stroke="#a0a4a8" stroke-width="1"/>
<text x="774.3" y="261" font-size="10.5" fill="#808080">24</text>
<text x="750.3" y="273.2" font-size="12" fill="#2F4F4F" stroke="#2F4F4F" stroke-width="0.25" textLength="15.9" lengthAdjust="spacingAndGlyphs">GO</text>
<rect x="770.4" y="331.85" width="21.7" height="2.55" fill="#b8dcb8"/>
<rect x="793.03" y="325.56" width="21.7" height="8.84" fill="#b0d8b0"/>
<rect x="815.66" y="322.42" width="21.7" height="11.98" fill="#a8d4a8"/>
<rect x="838.29" y="331.85" width="21.7" height="2.55" fill="#b0d8b0"/>
<rect x="860.92" y="328.71" width="21.7" height="5.69" fill="#98cc98"/>
<rect x="883.55" y="312.98" width="21.7" height="21.42" fill="#c0e0c0"/>
<rect x="906.18" y="331.85" width="21.7" height="2.55" fill="#c8e4c8"/>
<rect x="928.81" y="328.71" width="21.7" height="5.69" fill="#d0e8d0"/>
<rect x="951.44" y="328.71" width="21.7" height="5.69" fill="#d8ecd8"/>
<rect x="974.07" y="325.56" width="21.7" height="8.84" fill="#eef4ee"/>
<rect x="996.7" y="312.98" width="21.7" height="21.42" fill="#e0c4c4"/>
<rect x="1019.33" y="331.85" width="21.7" height="2.55" fill="#d0a0a0"/>
<rect x="1041.96" y="284.67" width="21.7" height="49.73" fill="#c89898"/>
<rect x="1064.59" y="303.54" width="21.7" height="30.86" fill="#884848"/>
<rect x="1087.22" y="319.27" width="21.7" height="15.13" fill="#804040"/>
<rect x="1109.85" y="290.96" width="21.7" height="43.44" fill="#201010"/>
<rect x="1132.48" y="259.5" width="21.7" height="74.9" fill="#201010"/>
<rect x="1155.11" y="306.69" width="21.7" height="27.71" fill="#201010"/>
<rect x="1177.74" y="303.54" width="21.7" height="30.86" fill="#201010"/>
<rect x="1200.37" y="294.1" width="21.7" height="40.3" fill="#381818"/>
<rect x="1223" y="331.85" width="21.7" height="2.55" fill="#c07070"/>
<rect x="1268.26" y="297.25" width="21.7" height="37.15" fill="#e8d4d4"/>
<rect x="1290.89" y="272.08" width="21.7" height="62.32" fill="#e4f0e4"/>
<rect x="1313.52" y="309.83" width="21.7" height="24.57" fill="#dcecdc"/>
<rect x="1336.15" y="312.98" width="21.7" height="21.42" fill="#cce4cc"/>
<rect x="1358.78" y="290.96" width="21.7" height="43.44" fill="#d0e8d0"/>
<rect x="1381.41" y="319.27" width="21.7" height="15.13" fill="#e4f0e4"/>
<rect x="1404.04" y="328.71" width="21.7" height="5.69" fill="#f4f8f4"/>
<rect x="1426.67" y="290.96" width="21.7" height="43.44" fill="#f4f4f4"/>
<rect x="1449.3" y="278.38" width="21.7" height="56.02" fill="#f8f8f8"/>
<rect x="1471.93" y="306.69" width="21.7" height="27.71" fill="#f6f0f0"/>
<rect x="1494.56" y="284.67" width="21.7" height="49.73" fill="#e4d0d0"/>
<rect x="1517.19" y="290.96" width="21.7" height="43.44" fill="#e4d0d0"/>
<rect x="1539.82" y="309.83" width="21.7" height="24.57" fill="#ecdcdc"/>
<rect x="1562.45" y="331.85" width="21.7" height="2.55" fill="#f0e4e4"/>
<rect x="1585.08" y="281.52" width="21.7" height="52.88" fill="#f0e0e0"/>
<rect x="1607.71" y="294.1" width="21.7" height="40.3" fill="#f0e4e4"/>
<rect x="1630.34" y="303.54" width="21.7" height="30.86" fill="#f0e4e4"/>
<rect x="1652.97" y="281.52" width="21.7" height="52.88" fill="#f6f6f6"/>
<rect x="1675.6" y="294.1" width="21.7" height="40.3" fill="#f4f4f4"/>
<rect x="1698.23" y="316.12" width="21.7" height="18.27" fill="#f4f8f4"/>
<polyline points="781.25,327.32 803.88,327.48 826.51,324.96 849.14,325.86 871.77,325.41 894.4,325.86 917.03,326.31 939.66,323.61 962.29,324.06 984.92,320.02 1007.55,315.97 1030.18,314.63 1052.81,309.23 1075.44,299.8 1098.07,298.9 1120.7,294.85 1143.33,296.2 1165.96,300.25 1188.59,302.49 1211.22,303.39 1233.85,305.19 1256.48,305.64 1279.11,306.99 1301.74,306.54 1324.37,304.74 1347,303.84 1369.63,302.94 1392.26,303.84 1414.89,303.39 1437.52,299.35 1460.15,299.35 1482.78,298 1505.41,298.45 1528.04,297.1 1550.67,299.35 1573.3,298.9 1595.93,298.45 1618.56,298.9 1641.19,299.8" fill="none" stroke="#98a0a8" stroke-width="1" stroke-dasharray="3 1.6" opacity="0.8"/>
<text x="781.25" y="328.45" font-size="11.5" fill="#2F4F4F" stroke="#2F4F4F" stroke-width="0.3" text-anchor="middle">1</text>
<text x="803.88" y="322.16" font-size="11.5" fill="#2F4F4F" stroke="#2F4F4F" stroke-width="0.3" text-anchor="middle">3</text>
<text x="826.51" y="319.02" font-size="11.5" fill="#2F4F4F" stroke="#2F4F4F" stroke-width="0.3" text-anchor="middle">4</text>
<text x="849.14" y="328.45" font-size="11.5" fill="#2F4F4F" stroke="#2F4F4F" stroke-width="0.3" text-anchor="middle">1</text>
<text x="871.77" y="325.31" font-size="11.5" fill="#2F4F4F" stroke="#2F4F4F" stroke-width="0.3" text-anchor="middle">2</text>
<text x="894.4" y="309.58" font-size="11.5" fill="#2F4F4F" stroke="#2F4F4F" stroke-width="0.3" text-anchor="middle">7</text>
<text x="917.03" y="328.45" font-size="11.5" fill="#2F4F4F" stroke="#2F4F4F" stroke-width="0.3" text-anchor="middle">1</text>
<text x="939.66" y="325.31" font-size="11.5" fill="#2F4F4F" stroke="#2F4F4F" stroke-width="0.3" text-anchor="middle">2</text>
<text x="962.29" y="325.31" font-size="11.5" fill="#2F4F4F" stroke="#2F4F4F" stroke-width="0.3" text-anchor="middle">2</text>
<text x="984.92" y="322.16" font-size="11.5" fill="#2F4F4F" stroke="#2F4F4F" stroke-width="0.3" text-anchor="middle">3</text>
<text x="1007.55" y="309.58" font-size="11.5" fill="#2F4F4F" stroke="#2F4F4F" stroke-width="0.3" text-anchor="middle">7</text>
<text x="1030.18" y="328.45" font-size="11.5" fill="#2F4F4F" stroke="#2F4F4F" stroke-width="0.3" text-anchor="middle">1</text>
<text x="1052.81" y="281.27" font-size="11.5" fill="#2F4F4F" stroke="#2F4F4F" stroke-width="0.3" text-anchor="middle">16</text>
<text x="1075.44" y="300.14" font-size="11.5" fill="#2F4F4F" stroke="#2F4F4F" stroke-width="0.3" text-anchor="middle">10</text>
<text x="1098.07" y="315.87" font-size="11.5" fill="#2F4F4F" stroke="#2F4F4F" stroke-width="0.3" text-anchor="middle">5</text>
<text x="1120.7" y="287.56" font-size="11.5" fill="#2F4F4F" stroke="#2F4F4F" stroke-width="0.3" text-anchor="middle">14</text>
<text x="1143.33" y="256.1" font-size="11.5" fill="#2F4F4F" stroke="#2F4F4F" stroke-width="0.3" text-anchor="middle">24</text>
<text x="1165.96" y="303.29" font-size="11.5" fill="#2F4F4F" stroke="#2F4F4F" stroke-width="0.3" text-anchor="middle">9</text>
<text x="1188.59" y="300.14" font-size="11.5" fill="#2F4F4F" stroke="#2F4F4F" stroke-width="0.3" text-anchor="middle">10</text>
<text x="1211.22" y="290.7" font-size="11.5" fill="#2F4F4F" stroke="#2F4F4F" stroke-width="0.3" text-anchor="middle">13</text>
<text x="1233.85" y="328.45" font-size="11.5" fill="#2F4F4F" stroke="#2F4F4F" stroke-width="0.3" text-anchor="middle">1</text>
<text x="1256.48" y="331.6" font-size="11.5" fill="#2F4F4F" stroke="#2F4F4F" stroke-width="0.3" text-anchor="middle">0</text>
<text x="1279.11" y="293.85" font-size="11.5" fill="#2F4F4F" stroke="#2F4F4F" stroke-width="0.3" text-anchor="middle">12</text>
<text x="1301.74" y="268.68" font-size="11.5" fill="#2F4F4F" stroke="#2F4F4F" stroke-width="0.3" text-anchor="middle">20</text>
<text x="1324.37" y="306.43" font-size="11.5" fill="#2F4F4F" stroke="#2F4F4F" stroke-width="0.3" text-anchor="middle">8</text>
<text x="1347" y="309.58" font-size="11.5" fill="#2F4F4F" stroke="#2F4F4F" stroke-width="0.3" text-anchor="middle">7</text>
<text x="1369.63" y="287.56" font-size="11.5" fill="#2F4F4F" stroke="#2F4F4F" stroke-width="0.3" text-anchor="middle">14</text>
<text x="1392.26" y="315.87" font-size="11.5" fill="#2F4F4F" stroke="#2F4F4F" stroke-width="0.3" text-anchor="middle">5</text>
<text x="1414.89" y="325.31" font-size="11.5" fill="#2F4F4F" stroke="#2F4F4F" stroke-width="0.3" text-anchor="middle">2</text>
<text x="1437.52" y="287.56" font-size="11.5" fill="#2F4F4F" stroke="#2F4F4F" stroke-width="0.3" text-anchor="middle">14</text>
<text x="1460.15" y="274.97" font-size="11.5" fill="#2F4F4F" stroke="#2F4F4F" stroke-width="0.3" text-anchor="middle">18</text>
<text x="1482.78" y="303.29" font-size="11.5" fill="#2F4F4F" stroke="#2F4F4F" stroke-width="0.3" text-anchor="middle">9</text>
<text x="1505.41" y="281.27" font-size="11.5" fill="#2F4F4F" stroke="#2F4F4F" stroke-width="0.3" text-anchor="middle">16</text>
<text x="1528.04" y="287.56" font-size="11.5" fill="#2F4F4F" stroke="#2F4F4F" stroke-width="0.3" text-anchor="middle">14</text>
<text x="1550.67" y="306.43" font-size="11.5" fill="#2F4F4F" stroke="#2F4F4F" stroke-width="0.3" text-anchor="middle">8</text>
<text x="1573.3" y="328.45" font-size="11.5" fill="#2F4F4F" stroke="#2F4F4F" stroke-width="0.3" text-anchor="middle">1</text>
<text x="1595.93" y="278.12" font-size="11.5" fill="#2F4F4F" stroke="#2F4F4F" stroke-width="0.3" text-anchor="middle">17</text>
<text x="1618.56" y="290.7" font-size="11.5" fill="#2F4F4F" stroke="#2F4F4F" stroke-width="0.3" text-anchor="middle">13</text>
<text x="1641.19" y="300.14" font-size="11.5" fill="#2F4F4F" stroke="#2F4F4F" stroke-width="0.3" text-anchor="middle">10</text>
<text x="1663.82" y="278.12" font-size="11.5" fill="#2F4F4F" stroke="#2F4F4F" stroke-width="0.3" text-anchor="middle">17</text>
<text x="1686.45" y="290.7" font-size="11.5" fill="#2F4F4F" stroke="#2F4F4F" stroke-width="0.3" text-anchor="middle">13</text>
<text x="1709.08" y="312.72" font-size="11.5" fill="#2F4F4F" stroke="#2F4F4F" stroke-width="0.3" text-anchor="middle">6</text>
<line x1="917.03" y1="335.5" x2="917.03" y2="337.8" stroke="#2F4F4F" stroke-width="1"/>
<text x="917.03" y="347" font-size="10.5" fill="#2F4F4F" text-anchor="middle" textLength="37.9" lengthAdjust="spacing">3.7.2021</text>
<line x1="1075.44" y1="335.5" x2="1075.44" y2="337.8" stroke="#2F4F4F" stroke-width="1"/>
<text x="1075.44" y="347" font-size="10.5" fill="#2F4F4F" text-anchor="middle" textLength="41.3" lengthAdjust="spacing">10.7.2021</text>
<line x1="1233.85" y1="335.5" x2="1233.85" y2="337.8" stroke="#2F4F4F" stroke-width="1"/>
<text x="1233.85" y="347" font-size="10.5" fill="#2F4F4F" text-anchor="middle" textLength="40.3" lengthAdjust="spacing">17.7.2021</text>
<line x1="1392.26" y1="335.5" x2="1392.26" y2="337.8" stroke="#2F4F4F" stroke-width="1"/>
<text x="1392.26" y="347" font-size="10.5" fill="#2F4F4F" text-anchor="middle" textLength="44.1" lengthAdjust="spacing">24.7.2021</text>
<line x1="1550.67" y1="335.5" x2="1550.67" y2="337.8" stroke="#2F4F4F" stroke-width="1"/>
<text x="1550.67" y="347" font-size="10.5" fill="#2F4F4F" text-anchor="middle" textLength="41.3" lengthAdjust="spacing">31.7.2021</text>
<line x1="1709.08" y1="335.5" x2="1709.08" y2="337.8" stroke="#2F4F4F" stroke-width="1"/>
<text x="1709.08" y="347" font-size="10.5" fill="#2F4F4F" text-anchor="middle" textLength="37.5" lengthAdjust="spacing">7.8.2021</text>
<text x="636" y="374.8" font-size="12.5" fill="#111" stroke="#111" stroke-width="0.25" text-anchor="end" textLength="57.7" lengthAdjust="spacingAndGlyphs">Populacija</text>
<text x="643" y="374.8" font-size="12.5" fill="#111" stroke="#111" stroke-width="0.25">:</text>
<text x="651" y="374.8" font-size="12.5" fill="#111" stroke="#111" stroke-width="0.25" textLength="42" lengthAdjust="spacing">326510</text>
<text x="636" y="389.8" font-size="12.5" fill="#111" stroke="#111" stroke-width="0.25" text-anchor="end" textLength="72.7" lengthAdjust="spacingAndGlyphs">7d incidenca</text>
<text x="643" y="389.8" font-size="12.5" fill="#111" stroke="#111" stroke-width="0.25">:</text>
<text x="651" y="389.8" font-size="12.5" fill="#111" stroke="#111" stroke-width="0.25" textLength="61.9" lengthAdjust="spacing">34 38 (+4)</text>
<text x="636" y="404.8" font-size="12.5" fill="#111" stroke="#111" stroke-width="0.25" text-anchor="end" textLength="47.2" lengthAdjust="spacingAndGlyphs">R (7,5,3)</text>
<text x="643" y="404.8" font-size="12.5" fill="#111" stroke="#111" stroke-width="0.25">:</text>
<text x="651" y="404.8" font-size="12.5" fill="#111" stroke="#111" stroke-width="0.25" textLength="72" lengthAdjust="spacingAndGlyphs">1,32 1,33 1,20</text>
<text x="636" y="419.8" font-size="12.5" fill="#111" stroke="#111" stroke-width="0.25" text-anchor="end" textLength="53.6" lengthAdjust="spacingAndGlyphs">Primeri 1d</text>
<text x="643" y="419.8" font-size="12.5" fill="#111" stroke="#111" stroke-width="0.25">:</text>
<text x="651" y="419.8" font-size="12.5" fill="#111" stroke="#111" stroke-width="0.25" textLength="59" lengthAdjust="spacingAndGlyphs">10 23 (+13)</text>
<text x="636" y="434.8" font-size="12.5" fill="#111" stroke="#111" stroke-width="0.25" text-anchor="end" textLength="58" lengthAdjust="spacingAndGlyphs">Primeri 7d</text>
<text x="643" y="434.8" font-size="12.5" fill="#111" stroke="#111" stroke-width="0.25">:</text>
<text x="651" y="434.8" font-size="12.5" fill="#111" stroke="#111" stroke-width="0.25" textLength="72" lengthAdjust="spacing">94 124 (+30)</text>
<rect x="769" y="355.5" width="1" height="85.5" fill="#a0a4a8"/>
<rect x="769" y="440" width="953" height="1" fill="#a0a4a8"/>
<line x1="766.5" y1="364.5" x2="769" y2="364.5" stroke="#a0a4a8" stroke-width="1"/>
<text x="774.3" y="366" font-size="10.5" fill="#808080">24</text>
<text x="750.3" y="378.2" font-size="12" fill="#2F4F4F" stroke="#2F4F4F" stroke-width="0.25" textLength="14" lengthAdjust="spacingAndGlyphs">PD</text>
<rect x="793.03" y="433.71" width="21.7" height="5.69" fill="#88c888"/>
<rect x="815.66" y="430.56" width="21.7" height="8.84" fill="#90cc90"/>
<rect x="838.29" y="424.27" width="21.7" height="15.13" fill="#88c888"/>
<rect x="860.92" y="433.71" width="21.7" height="5.69" fill="#90cc90"/>
<rect x="883.55" y="430.56" width="21.7" height="8.84" fill="#b0d8b0"/>
<rect x="928.81" y="433.71" width="21.7" height="5.69" fill="#b8dcb8"/>
<rect x="951.44" y="430.56" width="21.7" height="8.84" fill="#d4e8d4"/>
<rect x="974.07" y="430.56" width="21.7" height="8.84" fill="#eaf4ea"/>
<rect x="996.7" y="433.71" width="21.7" height="5.69" fill="#c8e4c8"/>
<rect x="1019.33" y="421.12" width="21.7" height="18.27" fill="#f8f4f4"/>
<rect x="1041.96" y="421.12" width="21.7" height="18.27" fill="#f0e4e4"/>
<rect x="1064.59" y="436.85" width="21.7" height="2.55" fill="#d0a0a0"/>
<rect x="1087.22" y="436.85" width="21.7" height="2.55" fill="#e8d4d4"/>
<rect x="1109.85" y="427.42" width="21.7" height="11.98" fill="#e8d4d4"/>
<rect x="1132.48" y="427.42" width="21.7" height="11.98" fill="#e0c4c4"/>
<rect x="1155.11" y="430.56" width="21.7" height="8.84" fill="#c89090"/>
<rect x="1177.74" y="436.85" width="21.7" height="2.55" fill="#f8f0f0"/>
<rect x="1200.37" y="427.42" width="21.7" height="11.98" fill="#e0f0e0"/>
<rect x="1223" y="436.85" width="21.7" height="2.55" fill="#d8ecd8"/>
<rect x="1245.63" y="427.42" width="21.7" height="11.98" fill="#f4f8f4"/>
<rect x="1268.26" y="424.27" width="21.7" height="15.13" fill="#f8f8f8"/>
<rect x="1290.89" y="427.42" width="21.7" height="11.98" fill="#f0f6f0"/>
<rect x="1313.52" y="417.98" width="21.7" height="21.42" fill="#f8f6f6"/>
<rect x="1336.15" y="421.12" width="21.7" height="18.27" fill="#d0a0a0"/>
<rect x="1358.78" y="411.69" width="21.7" height="27.71" fill="#a85858"/>
<rect x="1381.41" y="421.12" width="21.7" height="18.27" fill="#783838"/>
<rect x="1404.04" y="424.27" width="21.7" height="15.13" fill="#a85858"/>
<rect x="1426.67" y="399.1" width="21.7" height="40.3" fill="#703838"/>
<rect x="1449.3" y="386.52" width="21.7" height="52.88" fill="#201010"/>
<rect x="1471.93" y="408.54" width="21.7" height="30.86" fill="#4c2424"/>
<rect x="1494.56" y="386.52" width="21.7" height="52.88" fill="#562a2a"/>
<rect x="1517.19" y="370.79" width="21.7" height="68.61" fill="#4c2424"/>
<rect x="1539.82" y="408.54" width="21.7" height="30.86" fill="#6c3434"/>
<rect x="1562.45" y="411.69" width="21.7" height="27.71" fill="#6c3434"/>
<rect x="1585.08" y="395.96" width="21.7" height="43.44" fill="#a85858"/>
<rect x="1607.71" y="364.5" width="21.7" height="74.9" fill="#c08888"/>
<rect x="1630.34" y="383.38" width="21.7" height="56.02" fill="#c08888"/>
<rect x="1652.97" y="380.23" width="21.7" height="59.17" fill="#d0a4a4"/>
<rect x="1675.6" y="386.52" width="21.7" height="52.88" fill="#e8d8d8"/>
<rect x="1698.23" y="367.65" width="21.7" height="71.75" fill="#e0cccc"/>
<polyline points="781.25,431.54 803.88,431.85 826.51,431.54 849.14,432.66 871.77,431.76 894.4,431.31 917.03,431.31 939.66,432.66 962.29,430.86 984.92,429.51 1007.55,429.06 1030.18,429.51 1052.81,429.06 1075.44,428.61 1098.07,428.16 1120.7,430.41 1143.33,431.31 1165.96,431.31 1188.59,429.96 1211.22,429.51 1233.85,429.51 1256.48,427.72 1279.11,425.47 1301.74,423.22 1324.37,420.97 1347,420.52 1369.63,416.93 1392.26,411.09 1414.89,409.74 1437.52,404.8 1460.15,398.95 1482.78,397.16 1505.41,395.36 1528.04,394.91 1550.67,391.76 1573.3,388.17 1595.93,387.27 1618.56,389.52 1641.19,383.67" fill="none" stroke="#98a0a8" stroke-width="1" stroke-dasharray="3 1.6" opacity="0.8"/>
<text x="781.25" y="436.6" font-size="11.5" fill="#2F4F4F" stroke="#2F4F4F" stroke-width="0.3" text-anchor="middle">0</text>
<text x="803.88" y="430.31" font-size="11.5" fill="#2F4F4F" stroke="#2F4F4F" stroke-width="0.3" text-anchor="middle">2</text>
<text x="826.51" y="427.16" font-size="11.5" fill="#2F4F4F" stroke="#2F4F4F" stroke-width="0.3" text-anchor="middle">3</text>
<text x="849.14" y="420.87" font-size="11.5" fill="#2F4F4F" stroke="#2F4F4F" stroke-width="0.3" text-anchor="middle">5</text>
<text x="871.77" y="430.31" font-size="11.5" fill="#2F4F4F" stroke="#2F4F4F" stroke-width="0.3" text-anchor="middle">2</text>
<text x="894.4" y="427.16" font-size="11.5" fill="#2F4F4F" stroke="#2F4F4F" stroke-width="0.3" text-anchor="middle">3</text>
<text x="917.03" y="436.6" font-size="11.5" fill="#2F4F4F" stroke="#2F4F4F" stroke-width="0.3" text-anchor="middle">0</text>
<text x="939.66" y="430.31" font-size="11.5" fill="#2F4F4F" stroke="#2F4F4F" stroke-width="0.3" text-anchor="middle">2</text>
<text x="962.29" y="427.16" font-size="11.5" fill="#2F4F4F" stroke="#2F4F4F" stroke-width="0.3" text-anchor="middle">3</text>
<text x="984.92" y="427.16" font-size="11.5" fill="#2F4F4F" stroke="#2F4F4F" stroke-width="0.3" text-anchor="middle">3</text>
<text x="1007.55" y="430.31" font-size="11.5" fill="#2F4F4F" stroke="#2F4F4F" stroke-width="0.3" text-anchor="middle">2</text>
<text x="1030.18" y="417.72" font-size="11.5" fill="#2F4F4F" stroke="#2F4F4F" stroke-width="0.3" text-anchor="middle">6</text>
<text x="1052.81" y="417.72" font-size="11.5" fill="#2F4F4F" stroke="#2F4F4F" stroke-width="0.3" text-anchor="middle">6</text>
<text x="1075.44" y="433.45" font-size="11.5" fill="#2F4F4F" stroke="#2F4F4F" stroke-width="0.3" text-anchor="middle">1</text>
<text x="1098.07" y="433.45" font-size="11.5" fill="#2F4F4F" stroke="#2F4F4F" stroke-width="0.3" text-anchor="middle">1</text>
<text x="1120.7" y="424.02" font-size="11.5" fill="#2F4F4F" stroke="#2F4F4F" stroke-width="0.3" text-anchor="middle">4</text>
<text x="1143.33" y="424.02" font-size="11.5" fill="#2F4F4F" stroke="#2F4F4F" stroke-width="0.3" text-anchor="middle">4</text>
<text x="1165.96" y="427.16" font-size="11.5" fill="#2F4F4F" stroke="#2F4F4F" stroke-width="0.3" text-anchor="middle">3</text>
<text x="1188.59" y="433.45" font-size="11.5" fill="#2F4F4F" stroke="#2F4F4F" stroke-width="0.3" text-anchor="middle">1</text>
<text x="1211.22" y="424.02" font-size="11.5" fill="#2F4F4F" stroke="#2F4F4F" stroke-width="0.3" text-anchor="middle">4</text>
<text x="1233.85" y="433.45" font-size="11.5" fill="#2F4F4F" stroke="#2F4F4F" stroke-width="0.3" text-anchor="middle">1</text>
<text x="1256.48" y="424.02" font-size="11.5" fill="#2F4F4F" stroke="#2F4F4F" stroke-width="0.3" text-anchor="middle">4</text>
<text x="1279.11" y="420.87" font-size="11.5" fill="#2F4F4F" stroke="#2F4F4F" stroke-width="0.3" text-anchor="middle">5</text>
<text x="1301.74" y="424.02" font-size="11.5" fill="#2F4F4F" stroke="#2F4F4F" stroke-width="0.3" text-anchor="middle">4</text>
<text x="1324.37" y="414.58" font-size="11.5" fill="#2F4F4F" stroke="#2F4F4F" stroke-width="0.3" text-anchor="middle">7</text>
<text x="1347" y="417.72" font-size="11.5" fill="#2F4F4F" stroke="#2F4F4F" stroke-width="0.3" text-anchor="middle">6</text>
<text x="1369.63" y="408.29" font-size="11.5" fill="#2F4F4F" stroke="#2F4F4F" stroke-width="0.3" text-anchor="middle">9</text>
<text x="1392.26" y="417.72" font-size="11.5" fill="#2F4F4F" stroke="#2F4F4F" stroke-width="0.3" text-anchor="middle">6</text>
<text x="1414.89" y="420.87" font-size="11.5" fill="#2F4F4F" stroke="#2F4F4F" stroke-width="0.3" text-anchor="middle">5</text>
<text x="1437.52" y="395.7" font-size="11.5" fill="#2F4F4F" stroke="#2F4F4F" stroke-width="0.3" text-anchor="middle">13</text>
<text x="1460.15" y="383.12" font-size="11.5" fill="#2F4F4F" stroke="#2F4F4F" stroke-width="0.3" text-anchor="middle">17</text>
<text x="1482.78" y="405.14" font-size="11.5" fill="#2F4F4F" stroke="#2F4F4F" stroke-width="0.3" text-anchor="middle">10</text>
<text x="1505.41" y="383.12" font-size="11.5" fill="#2F4F4F" stroke="#2F4F4F" stroke-width="0.3" text-anchor="middle">17</text>
<text x="1528.04" y="367.39" font-size="11.5" fill="#2F4F4F" stroke="#2F4F4F" stroke-width="0.3" text-anchor="middle">22</text>
<text x="1550.67" y="405.14" font-size="11.5" fill="#2F4F4F" stroke="#2F4F4F" stroke-width="0.3" text-anchor="middle">10</text>
<text x="1573.3" y="408.29" font-size="11.5" fill="#2F4F4F" stroke="#2F4F4F" stroke-width="0.3" text-anchor="middle">9</text>
<text x="1595.93" y="392.56" font-size="11.5" fill="#2F4F4F" stroke="#2F4F4F" stroke-width="0.3" text-anchor="middle">14</text>
<text x="1618.56" y="361.1" font-size="11.5" fill="#2F4F4F" stroke="#2F4F4F" stroke-width="0.3" text-anchor="middle">24</text>
<text x="1641.19" y="379.97" font-size="11.5" fill="#2F4F4F" stroke="#2F4F4F" stroke-width="0.3" text-anchor="middle">18</text>
<text x="1663.82" y="376.83" font-size="11.5" fill="#2F4F4F" stroke="#2F4F4F" stroke-width="0.3" text-anchor="middle">19</text>
<text x="1686.45" y="383.12" font-size="11.5" fill="#2F4F4F" stroke="#2F4F4F" stroke-width="0.3" text-anchor="middle">17</text>
<text x="1709.08" y="364.25" font-size="11.5" fill="#2F4F4F" stroke="#2F4F4F" stroke-width="0.3" text-anchor="middle">23</text>
<line x1="917.03" y1="440.5" x2="917.03" y2="442.8" stroke="#2F4F4F" stroke-width="1"/>
<text x="917.03" y="452" font-size="10.5" fill="#2F4F4F" text-anchor="middle" textLength="37.9" lengthAdjust="spacing">3.7.2021</text>
<line x1="1075.44" y1="440.5" x2="1075.44" y2="442.8" stroke="#2F4F4F" stroke-width="1"/>
<text x="1075.44" y="452" font-size="10.5" fill="#2F4F4F" text-anchor="middle" textLength="41.3" lengthAdjust="spacing">10.7.2021</text>
<line x1="1233.85" y1="440.5" x2="1233.85" y2="442.8" stroke="#2F4F4F" stroke-width="1"/>
<text x="1233.85" y="452" font-size="10.5" fill="#2F4F4F" text-anchor="middle" textLength="40.3" lengthAdjust="spacing">17.7.2021</text>
<line x1="1392.26" y1="440.5" x2="1392.26" y2="442.8" stroke="#2F4F4F" stroke-width="1"/>
<text x="1392.26" y="452" font-size="10.5" fill="#2F4F4F" text-anchor="middle" textLength="44.1" lengthAdjust="spacing">24.7.2021</text>
<line x1="1550.67" y1="440.5" x2="1550.67" y2="442.8" stroke="#2F4F4F" stroke-width="1"/>
<text x="1550.67" y="452" font-size="10.5" fill="#2F4F4F" text-anchor="middle" textLength="41.3" lengthAdjust="spacing">31.7.2021</text>
<line x1="1709.08" y1="440.5" x2="1709.08" y2="442.8" stroke="#2F4F4F" stroke-width="1"/>
<text x="1709.08" y="452" font-size="10.5" fill="#2F4F4F" text-anchor="middle" textLength="37.5" lengthAdjust="spacing">7.8.2021</text>
<text x="636" y="479.8" font-size="12.5" fill="#111" stroke="#111" stroke-width="0.25" text-anchor="end" textLength="57.7" lengthAdjust="spacingAndGlyphs">Populacija</text>
<text x="643" y="479.8" font-size="12.5" fill="#111" stroke="#111" stroke-width="0.25">:</text>
<text x="651" y="479.8" font-size="12.5" fill="#111" stroke="#111" stroke-width="0.25" textLength="43" lengthAdjust="spacing">145859</text>
<text x="636" y="494.8" font-size="12.5" fill="#111" stroke="#111" stroke-width="0.25" text-anchor="end" textLength="72.7" lengthAdjust="spacingAndGlyphs">7d incidenca</text>
<text x="643" y="494.8" font-size="12.5" fill="#111" stroke="#111" stroke-width="0.25">:</text>
<text x="651" y="494.8" font-size="12.5" fill="#111" stroke="#111" stroke-width="0.25" textLength="53.7" lengthAdjust="spacing">37 36 (-1)</text>
<text x="636" y="509.8" font-size="12.5" fill="#111" stroke="#111" stroke-width="0.25" text-anchor="end" textLength="47.2" lengthAdjust="spacingAndGlyphs">R (7,5,3)</text>
<text x="643" y="509.8" font-size="12.5" fill="#111" stroke="#111" stroke-width="0.25">:</text>
<text x="651" y="509.8" font-size="12.5" fill="#111" stroke="#111" stroke-width="0.25" textLength="87.2" lengthAdjust="spacing">0,84 0,82 0,74</text>
<text x="636" y="524.8" font-size="12.5" fill="#111" stroke="#111" stroke-width="0.25" text-anchor="end" textLength="53.6" lengthAdjust="spacingAndGlyphs">Primeri 1d</text>
<text x="643" y="524.8" font-size="12.5" fill="#111" stroke="#111" stroke-width="0.25">:</text>
<text x="651" y="524.8" font-size="12.5" fill="#111" stroke="#111" stroke-width="0.25" textLength="42.4" lengthAdjust="spacing">5 3 (-2)</text>
<text x="636" y="539.8" font-size="12.5" fill="#111" stroke="#111" stroke-width="0.25" text-anchor="end" textLength="58" lengthAdjust="spacingAndGlyphs">Primeri 7d</text>
<text x="643" y="539.8" font-size="12.5" fill="#111" stroke="#111" stroke-width="0.25">:</text>
<text x="651" y="539.8" font-size="12.5" fill="#111" stroke="#111" stroke-width="0.25" textLength="61" lengthAdjust="spacing">62 52 (-10)</text>
<rect x="769" y="460.5" width="1" height="85.5" fill="#a0a4a8"/>
<rect x="769" y="545" width="953" height="1" fill="#a0a4a8"/>
<line x1="766.5" y1="469.5" x2="769" y2="469.5" stroke="#a0a4a8" stroke-width="1"/>
<text x="774.3" y="471" font-size="10.5" fill="#808080">35</text>
<text x="750.3" y="483.2" font-size="12" fill="#2F4F4F" stroke="#2F4F4F" stroke-width="0.25" textLength="13.7" lengthAdjust="spacingAndGlyphs">JV</text>
<rect x="770.4" y="542.84" width="21.7" height="1.56" fill="#c8e4c8"/>
<rect x="793.03" y="527.74" width="21.7" height="16.66" fill="#d0e8d0"/>
<rect x="815.66" y="540.69" width="21.7" height="3.71" fill="#b0d8b0"/>
<rect x="838.29" y="536.37" width="21.7" height="8.03" fill="#cce4cc"/>
<rect x="860.92" y="536.37" width="21.7" height="8.03" fill="#f4f4f4"/>
<rect x="951.44" y="508.33" width="21.7" height="36.07" fill="#d8b4b4"/>
<rect x="974.07" y="473.81" width="21.7" height="70.59" fill="#201010"/>
<rect x="996.7" y="480.29" width="21.7" height="64.11" fill="#201010"/>
<rect x="1019.33" y="469.5" width="21.7" height="74.9" fill="#201010"/>
<rect x="1041.96" y="478.13" width="21.7" height="66.27" fill="#201010"/>
<rect x="1064.59" y="540.69" width="21.7" height="3.71" fill="#201010"/>
<rect x="1087.22" y="540.69" width="21.7" height="3.71" fill="#201010"/>
<rect x="1109.85" y="488.91" width="21.7" height="55.49" fill="#201010"/>
<rect x="1132.48" y="501.86" width="21.7" height="42.54" fill="#4c2424"/>
<rect x="1155.11" y="527.74" width="21.7" height="16.66" fill="#d8b0b0"/>
<rect x="1177.74" y="534.21" width="21.7" height="10.19" fill="#e0f0e0"/>
<rect x="1200.37" y="523.43" width="21.7" height="20.97" fill="#a0d0a0"/>
<rect x="1223" y="540.69" width="21.7" height="3.71" fill="#a8d4a8"/>
<rect x="1245.63" y="542.84" width="21.7" height="1.56" fill="#b8dcb8"/>
<rect x="1268.26" y="516.96" width="21.7" height="27.44" fill="#90c890"/>
<rect x="1290.89" y="512.64" width="21.7" height="31.76" fill="#90c890"/>
<rect x="1313.52" y="523.43" width="21.7" height="20.97" fill="#98cc98"/>
<rect x="1336.15" y="536.37" width="21.7" height="8.03" fill="#b0d8b0"/>
<rect x="1358.78" y="523.43" width="21.7" height="20.97" fill="#d8ecd8"/>
<rect x="1381.41" y="538.53" width="21.7" height="5.87" fill="#d8ecd8"/>
<rect x="1404.04" y="534.21" width="21.7" height="10.19" fill="#e4f0e4"/>
<rect x="1426.67" y="529.9" width="21.7" height="14.5" fill="#f0f6f0"/>
<rect x="1449.3" y="529.9" width="21.7" height="14.5" fill="#e4f0e4"/>
<rect x="1471.93" y="519.11" width="21.7" height="25.29" fill="#e4f0e4"/>
<rect x="1494.56" y="514.8" width="21.7" height="29.6" fill="#f8f4f4"/>
<rect x="1517.19" y="519.11" width="21.7" height="25.29" fill="#f4e8e8"/>
<rect x="1539.82" y="534.21" width="21.7" height="10.19" fill="#f4ecec"/>
<rect x="1562.45" y="542.84" width="21.7" height="1.56" fill="#f4ecec"/>
<rect x="1585.08" y="523.43" width="21.7" height="20.97" fill="#f4e8e8"/>
<rect x="1607.71" y="521.27" width="21.7" height="23.13" fill="#d8b4b4"/>
<rect x="1630.34" y="529.9" width="21.7" height="14.5" fill="#ead8d8"/>
<rect x="1652.97" y="523.43" width="21.7" height="20.97" fill="#f8faf8"/>
<rect x="1675.6" y="523.43" width="21.7" height="20.97" fill="#eef6ee"/>
<rect x="1698.23" y="538.53" width="21.7" height="5.87" fill="#e0f0e0"/>
<polyline points="781.25,536.31 803.88,536.2 826.51,537.57 849.14,538.54 871.77,538.85 894.4,536.08 917.03,526.53 939.66,518.51 962.29,508.96 984.92,499.41 1007.55,498.79 1030.18,498.18 1052.81,495.4 1075.44,499.41 1098.07,506.19 1120.7,515.43 1143.33,521.9 1165.96,521.9 1188.59,522.21 1211.22,526.22 1233.85,527.76 1256.48,527.14 1279.11,527.45 1301.74,527.45 1324.37,527.14 1347,525.91 1369.63,527.76 1392.26,530.22 1414.89,529.61 1437.52,526.53 1460.15,525.91 1482.78,525.29 1505.41,526.53 1528.04,525.6 1550.67,524.37 1573.3,525.91 1595.93,527.14 1618.56,527.76 1641.19,528.38" fill="none" stroke="#98a0a8" stroke-width="1" stroke-dasharray="3 1.6" opacity="0.8"/>
<text x="781.25" y="539.44" font-size="11.5" fill="#2F4F4F" stroke="#2F4F4F" stroke-width="0.3" text-anchor="middle">1</text>
<text x="803.88" y="524.34" font-size="11.5" fill="#2F4F4F" stroke="#2F4F4F" stroke-width="0.3" text-anchor="middle">8</text>
<text x="826.51" y="537.29" font-size="11.5" fill="#2F4F4F" stroke="#2F4F4F" stroke-width="0.3" text-anchor="middle">2</text>
<text x="849.14" y="532.97" font-size="11.5" fill="#2F4F4F" stroke="#2F4F4F" stroke-width="0.3" text-anchor="middle">4</text>
<text x="871.77" y="532.97" font-size="11.5" fill="#2F4F4F" stroke="#2F4F4F" stroke-width="0.3" text-anchor="middle">4</text>
<text x="894.4" y="541.6" font-size="11.5" fill="#2F4F4F" stroke="#2F4F4F" stroke-width="0.3" text-anchor="middle">0</text>
<text x="917.03" y="541.6" font-size="11.5" fill="#2F4F4F" stroke="#2F4F4F" stroke-width="0.3" text-anchor="middle">0</text>
<text x="939.66" y="541.6" font-size="11.5" fill="#2F4F4F" stroke="#2F4F4F" stroke-width="0.3" text-anchor="middle">0</text>
<text x="962.29" y="504.93" font-size="11.5" fill="#2F4F4F" stroke="#2F4F4F" stroke-width="0.3" text-anchor="middle">17</text>
<text x="984.92" y="470.41" font-size="11.5" fill="#2F4F4F" stroke="#2F4F4F" stroke-width="0.3" text-anchor="middle">33</text>
<text x="1007.55" y="476.89" font-size="11.5" fill="#2F4F4F" stroke="#2F4F4F" stroke-width="0.3" text-anchor="middle">30</text>
<text x="1030.18" y="466.1" font-size="11.5" fill="#2F4F4F" stroke="#2F4F4F" stroke-width="0.3" text-anchor="middle">35</text>
<text x="1052.81" y="474.73" font-size="11.5" fill="#2F4F4F" stroke="#2F4F4F" stroke-width="0.3" text-anchor="middle">31</text>
<text x="1075.44" y="537.29" font-size="11.5" fill="#2F4F4F" stroke="#2F4F4F" stroke-width="0.3" text-anchor="middle">2</text>
<text x="1098.07" y="537.29" font-size="11.5" fill="#2F4F4F" stroke="#2F4F4F" stroke-width="0.3" text-anchor="middle">2</text>
<text x="1120.7" y="485.51" font-size="11.5" fill="#2F4F4F" stroke="#2F4F4F" stroke-width="0.3" text-anchor="middle">26</text>
<text x="1143.33" y="498.46" font-size="11.5" fill="#2F4F4F" stroke="#2F4F4F" stroke-width="0.3" text-anchor="middle">20</text>
<text x="1165.96" y="524.34" font-size="11.5" fill="#2F4F4F" stroke="#2F4F4F" stroke-width="0.3" text-anchor="middle">8</text>
<text x="1188.59" y="530.81" font-size="11.5" fill="#2F4F4F" stroke="#2F4F4F" stroke-width="0.3" text-anchor="middle">5</text>
<text x="1211.22" y="520.03" font-size="11.5" fill="#2F4F4F" stroke="#2F4F4F" stroke-width="0.3" text-anchor="middle">10</text>
<text x="1233.85" y="537.29" font-size="11.5" fill="#2F4F4F" stroke="#2F4F4F" stroke-width="0.3" text-anchor="middle">2</text>
<text x="1256.48" y="539.44" font-size="11.5" fill="#2F4F4F" stroke="#2F4F4F" stroke-width="0.3" text-anchor="middle">1</text>
<text x="1279.11" y="513.56" font-size="11.5" fill="#2F4F4F" stroke="#2F4F4F" stroke-width="0.3" text-anchor="middle">13</text>
<text x="1301.74" y="509.24" font-size="11.5" fill="#2F4F4F" stroke="#2F4F4F" stroke-width="0.3" text-anchor="middle">15</text>
<text x="1324.37" y="520.03" font-size="11.5" fill="#2F4F4F" stroke="#2F4F4F" stroke-width="0.3" text-anchor="middle">10</text>
<text x="1347" y="532.97" font-size="11.5" fill="#2F4F4F" stroke="#2F4F4F" stroke-width="0.3" text-anchor="middle">4</text>
<text x="1369.63" y="520.03" font-size="11.5" fill="#2F4F4F" stroke="#2F4F4F" stroke-width="0.3" text-anchor="middle">10</text>
<text x="1392.26" y="535.13" font-size="11.5" fill="#2F4F4F" stroke="#2F4F4F" stroke-width="0.3" text-anchor="middle">3</text>
<text x="1414.89" y="530.81" font-size="11.5" fill="#2F4F4F" stroke="#2F4F4F" stroke-width="0.3" text-anchor="middle">5</text>
<text x="1437.52" y="526.5" font-size="11.5" fill="#2F4F4F" stroke="#2F4F4F" stroke-width="0.3" text-anchor="middle">7</text>
<text x="1460.15" y="526.5" font-size="11.5" fill="#2F4F4F" stroke="#2F4F4F" stroke-width="0.3" text-anchor="middle">7</text>
<text x="1482.78" y="515.71" font-size="11.5" fill="#2F4F4F" stroke="#2F4F4F" stroke-width="0.3" text-anchor="middle">12</text>
<text x="1505.41" y="511.4" font-size="11.5" fill="#2F4F4F" stroke="#2F4F4F" stroke-width="0.3" text-anchor="middle">14</text>
<text x="1528.04" y="515.71" font-size="11.5" fill="#2F4F4F" stroke="#2F4F4F" stroke-width="0.3" text-anchor="middle">12</text>
<text x="1550.67" y="530.81" font-size="11.5" fill="#2F4F4F" stroke="#2F4F4F" stroke-width="0.3" text-anchor="middle">5</text>
<text x="1573.3" y="539.44" font-size="11.5" fill="#2F4F4F" stroke="#2F4F4F" stroke-width="0.3" text-anchor="middle">1</text>
<text x="1595.93" y="520.03" font-size="11.5" fill="#2F4F4F" stroke="#2F4F4F" stroke-width="0.3" text-anchor="middle">10</text>
<text x="1618.56" y="517.87" font-size="11.5" fill="#2F4F4F" stroke="#2F4F4F" stroke-width="0.3" text-anchor="middle">11</text>
<text x="1641.19" y="526.5" font-size="11.5" fill="#2F4F4F" stroke="#2F4F4F" stroke-width="0.3" text-anchor="middle">7</text>
<text x="1663.82" y="520.03" font-size="11.5" fill="#2F4F4F" stroke="#2F4F4F" stroke-width="0.3" text-anchor="middle">10</text>
<text x="1686.45" y="520.03" font-size="11.5" fill="#2F4F4F" stroke="#2F4F4F" stroke-width="0.3" text-anchor="middle">10</text>
<text x="1709.08" y="535.13" font-size="11.5" fill="#2F4F4F" stroke="#2F4F4F" stroke-width="0.3" text-anchor="middle">3</text>
<line x1="917.03" y1="545.5" x2="917.03" y2="547.8" stroke="#2F4F4F" stroke-width="1"/>
<text x="917.03" y="557" font-size="10.5" fill="#2F4F4F" text-anchor="middle" textLength="37.9" lengthAdjust="spacing">3.7.2021</text>
<line x1="1075.44" y1="545.5" x2="1075.44" y2="547.8" stroke="#2F4F4F" stroke-width="1"/>
<text x="1075.44" y="557" font-size="10.5" fill="#2F4F4F" text-anchor="middle" textLength="41.3" lengthAdjust="spacing">10.7.2021</text>
<line x1="1233.85" y1="545.5" x2="1233.85" y2="547.8" stroke="#2F4F4F" stroke-width="1"/>
<text x="1233.85" y="557" font-size="10.5" fill="#2F4F4F" text-anchor="middle" textLength="40.3" lengthAdjust="spacing">17.7.2021</text>
<line x1="1392.26" y1="545.5" x2="1392.26" y2="547.8" stroke="#2F4F4F" stroke-width="1"/>
<text x="1392.26" y="557" font-size="10.5" fill="#2F4F4F" text-anchor="middle" textLength="44.1" lengthAdjust="spacing">24.7.2021</text>
<line x1="1550.67" y1="545.5" x2="1550.67" y2="547.8" stroke="#2F4F4F" stroke-width="1"/>
<text x="1550.67" y="557" font-size="10.5" fill="#2F4F4F" text-anchor="middle" textLength="41.3" lengthAdjust="spacing">31.7.2021</text>
<line x1="1709.08" y1="545.5" x2="1709.08" y2="547.8" stroke="#2F4F4F" stroke-width="1"/>
<text x="1709.08" y="557" font-size="10.5" fill="#2F4F4F" text-anchor="middle" textLength="37.5" lengthAdjust="spacing">7.8.2021</text>
<g clip-path="url(#plotclip)" fill="none" stroke-width="1" stroke-linejoin="round">
<polyline points="35,1053 65,1010 65,997 123.3,523.7 123.3,877.3 182.7,877.3 153.2,364.6 123.5,877.3 153.1,819.1" stroke="#A00000" opacity="0.6"/>
<polyline points="188.3,814.6 196.7,833.7 180.4,902.6 187.8,878.5 188.3,894.3 260,807.2 284.4,765.2 357.3,699.6 436.4,565.3 530,486 580,422 592.3,432.8 621.4,593.8 630,611 639,626.8" stroke="#FF7F50" opacity="0.6"/>
<polyline points="302.7,699.6 353,652 436.4,547.6 455,605.3 525.7,614.7 608.4,612.1 633.2,648.2 658.4,641.7 665.5,704 709.6,756.6 760.7,749.1 773.3,788.1 741.8,836.1 814.9,822.5" stroke="#A000A0" opacity="0.6"/>
<polyline points="507.5,636.3 471.6,669 362.2,867.2 398.3,885.8 416.4,910.8 398.3,917.8 471.1,891.4 579.9,833.1 598,749.7 687.6,719.7 725.6,718.6 671,759.5 708,728" stroke="#A0522D" opacity="0.6"/>
<polyline points="435.6,46 435.6,665 362.2,826.7 362.2,877.5 398.9,858 435.3,860 398.9,893.3 471.9,818.6 690.7,736.2 726.9,748.8 799,716.9" stroke="#708090" opacity="0.6"/>
<polyline points="348.3,771.7 348.3,818.3 308.3,877.3 231,928.3 270,877.3 231,944 622.1,722 701.6,624.2 896.2,276 859.6,424.4 856.7,311.6 818,464.9" stroke="#9ACD32" opacity="0.6"/>
<polyline points="579.1,765.9 596.4,771.2 351.1,948.4 403.3,926.7 456.7,922.2 523.3,896.7 561.8,889 527.2,855.9 579.1,749.7 649.2,759.6 509.1,855.1 545.1,872" stroke="#DAA520" opacity="0.6"/>
<polyline points="462.2,842.2 550.8,831.5 533.5,838.6 638.9,804 708,758.2 746.6,733 763.9,709.4 728.5,767.3 870,767.8 1172.4,650.2 1314.2,679.5 1403.9,714.1 1705.8,648.4 1706,629.2" stroke="#20B2AA" opacity="0.6"/>
<polyline points="600.2,799.9 623.4,804.2 601,856.6 638,846.3 679.4,825.4 743.4,825.4 802.2,813.3 914,789.8 989.6,755.7 1031.1,762.2 1042.4,777.6 1004.4,812 979.1,830.2" stroke="#1E90FF" opacity="0.6"/>
<polyline points="716,882.7 734.5,875.1 714.8,869.3 778.2,841.9 814.9,828.5 845,837.5 834.7,846.3 864.8,844.7 815.2,851.1 825.5,852.3 833.5,872.9 800.3,880 804.8,887" stroke="#00A000" opacity="0.6"/>
<polyline points="690.3,903.6 744.2,897 800,890 845,872.4 889.5,833.3 911.7,824.3 961.1,804.4 903.9,855 862,883.8 918.4,858.6 900,866 845,880 889.6,907.3 809.5,893.5 775.8,907.2" stroke="#DC143C" opacity="0.6"/>
<polyline points="636.8,915.5 856,864.5 640,913 790,876 718.5,902" stroke="#808000" opacity="0.6"/>
</g>
<rect x="526.4" y="38.5" width="25.2" height="89.9" fill="#20B2AA"/>
<text transform="translate(533.8,45.8) rotate(90)" font-size="15.5" font-weight="bold" fill="#fff" textLength="75.9" lengthAdjust="spacingAndGlyphs">Obalno-k..</text>
<rect x="526.4" y="143.5" width="25.2" height="89.9" fill="#1E90FF"/>
<text transform="translate(533.8,150.8) rotate(90)" font-size="15.5" font-weight="bold" fill="#fff" textLength="75.8" lengthAdjust="spacingAndGlyphs">Osrednje..</text>
<rect x="526.4" y="248.5" width="25.2" height="89.9" fill="#00A000"/>
<text transform="translate(533.8,255.8) rotate(90)" font-size="15.5" font-weight="bold" fill="#fff" textLength="76.8" lengthAdjust="spacingAndGlyphs">Gorenjska</text>
<rect x="526.4" y="353.5" width="25.2" height="89.9" fill="#A000A0"/>
<text transform="translate(533.8,360.8) rotate(90)" font-size="15.5" font-weight="bold" fill="#fff" textLength="78.8" lengthAdjust="spacingAndGlyphs">Podravska</text>
<rect x="526.4" y="458.5" width="25.2" height="89.9" fill="#DC143C"/>
<text transform="translate(533.8,465.8) rotate(90)" font-size="15.5" font-weight="bold" fill="#fff" textLength="79.7" lengthAdjust="spacingAndGlyphs">Jugovzho..</text>
<path d="M284.94,277.95 L427.19,277.95 A149.5,149.5 0 0 1 418.95,325.67 Z" fill="#A0522D" stroke="#999999" stroke-width="0.8" stroke-opacity="0.8"/>
<text x="395.55" y="300.66" font-size="12.5" fill="#fff" stroke="#fff" stroke-width="0.45" text-anchor="middle">PM</text>
<path d="M279.51,278.67 L428.01,331.55 A160,160 0 0 1 319.51,431.14 Z" fill="#A000A0" stroke="#999999" stroke-width="0.8" stroke-opacity="0.8"/>
<text x="364.26" y="374.6" font-size="12.5" fill="#fff" stroke="#fff" stroke-width="0.45" text-anchor="middle">PD</text>
<path d="M279.34,287.88 L292.6,338.43 A63.5,63.5 0 0 1 281.16,340.11 Z" fill="#A00000" stroke="#999999" stroke-width="0.8" stroke-opacity="0.8"/>
<text x="285.08" y="330.56" font-size="12.5" fill="#fff" stroke="#fff" stroke-width="0.45" text-anchor="middle">KO</text>
<path d="M276.56,279.87 L281.39,418.15 A141.5,141.5 0 0 1 184.69,383.34 Z" fill="#FF7F50" stroke="#999999" stroke-width="0.8" stroke-opacity="0.8"/>
<text x="239.35" y="386.81" font-size="12.5" fill="#fff" stroke="#fff" stroke-width="0.45" text-anchor="middle">SA</text>
<path d="M267.47,286.34 L170.54,395.51 A160,160 0 0 1 152.74,376.62 Z" fill="#708090" stroke="#999999" stroke-width="0.8" stroke-opacity="0.8"/>
<text x="184.55" y="368.08" font-size="12.5" fill="#fff" stroke="#fff" stroke-width="0.45" text-anchor="middle">ZA</text>
<path d="M268.37,282.45 L157.87,369.4 A151.5,151.5 0 0 1 141.04,342.1 Z" fill="#808000" stroke="#999999" stroke-width="0.8" stroke-opacity="0.8"/>
<text x="174.53" y="343.9" font-size="12.5" fill="#fff" stroke="#fff" stroke-width="0.45" text-anchor="middle">PS</text>
<path d="M272.08,277.95 L134.82,342.25 A157.2,157.2 0 0 1 120.5,277.95 Z" fill="#DC143C" stroke="#999999" stroke-width="0.8" stroke-opacity="0.8"/>
<text x="154.94" y="307.63" font-size="12.5" fill="#fff" stroke="#fff" stroke-width="0.45" text-anchor="middle">JV</text>
<path d="M276.54,275.45 L101.7,275.45 A176,176 0 0 1 289.96,101.13 Z" fill="#1E90FF" stroke="#999999" stroke-width="0.8" stroke-opacity="0.8"/>
<text x="182.03" y="176.99" font-size="12.5" fill="#fff" stroke="#fff" stroke-width="0.45" text-anchor="middle">OS</text>
<path d="M279.24,272.94 L291.22,117.27 A160,160 0 0 1 380.02,153.69 Z" fill="#00A000" stroke="#999999" stroke-width="0.8" stroke-opacity="0.8"/>
<text x="326.27" y="161.87" font-size="12.5" fill="#fff" stroke="#fff" stroke-width="0.45" text-anchor="middle">GO</text>
<path d="M288.57,265.77 L383.22,153.78 A162,162 0 0 1 400.07,170.54 Z" fill="#9ACD32" stroke="#999999" stroke-width="0.8" stroke-opacity="0.8"/>
<text x="369.1" y="188.42" font-size="12.5" fill="#fff" stroke="#fff" stroke-width="0.45" text-anchor="middle">PN</text>
<path d="M283.85,273.09 L378.35,192.38 A131.3,131.3 0 0 1 400.41,229.98 Z" fill="#DAA520" stroke="#999999" stroke-width="0.8" stroke-opacity="0.8"/>
<text x="368.3" y="227.15" font-size="12.5" fill="#fff" stroke="#fff" stroke-width="0.45" text-anchor="middle">GŠ</text>
<path d="M284.68,275.45 L499,196.17 A235.5,235.5 0 0 1 513.2,275.45 Z" fill="#20B2AA" stroke="#999999" stroke-width="0.8" stroke-opacity="0.8"/>
<text x="463.15" y="247.1" font-size="12.5" fill="#fff" stroke="#fff" stroke-width="0.45" text-anchor="middle">OK</text>
<circle cx="277.7" cy="276.7" r="20" fill="#ffffff" fill-opacity="0.9" stroke="#808080" stroke-width="1"/>
<text x="277.7" y="280.6" font-size="13" fill="#2F4F4F" stroke="#2F4F4F" stroke-width="0.3" text-anchor="middle">7d</text>
<g>
<circle cx="153.1" cy="819.1" r="24.4" fill="#A00000" fill-opacity="0.5"/>
<text x="153.1" y="808.5" font-size="10.3" fill="#2F4F4F" stroke="#2F4F4F" stroke-width="0.2" text-anchor="middle">1,33</text>
<text x="153.1" y="822.6" font-size="12.3" font-weight="bold" fill="#000" text-anchor="middle">KO</text>
<text x="153.1" y="835.7" font-size="10.8" fill="#2F4F4F" stroke="#2F4F4F" stroke-width="0.2" text-anchor="middle">6</text>
</g>
<g>
<circle cx="545.1" cy="872" r="31.2" fill="#DAA520" fill-opacity="0.5"/>
<text x="545.1" y="861.4" font-size="10.3" fill="#2F4F4F" stroke="#2F4F4F" stroke-width="0.2" text-anchor="middle">1,04</text>
<text x="545.1" y="875.5" font-size="12.3" font-weight="bold" fill="#000" text-anchor="middle">GŠ</text>
<text x="545.1" y="888.6" font-size="10.8" fill="#2F4F4F" stroke="#2F4F4F" stroke-width="0.2" text-anchor="middle">24</text>
</g>
<g>
<circle cx="639" cy="626.8" r="46" fill="#FF7F50" fill-opacity="0.5"/>
<text x="639" y="616.2" font-size="10.3" fill="#2F4F4F" stroke="#2F4F4F" stroke-width="0.2" text-anchor="middle">2,42</text>
<text x="639" y="630.3" font-size="12.3" font-weight="bold" fill="#000" text-anchor="middle">SA</text>
<text x="639" y="643.4" font-size="10.8" fill="#2F4F4F" stroke="#2F4F4F" stroke-width="0.2" text-anchor="middle">29</text>
</g>
<g>
<circle cx="708" cy="728" r="30.2" fill="#A0522D" fill-opacity="0.5"/>
<text x="708" y="717.4" font-size="10.3" fill="#2F4F4F" stroke="#2F4F4F" stroke-width="0.2" text-anchor="middle">1,85</text>
<text x="708" y="731.5" font-size="12.3" font-weight="bold" fill="#000" text-anchor="middle">PM</text>
<text x="708" y="744.6" font-size="10.8" fill="#2F4F4F" stroke="#2F4F4F" stroke-width="0.2" text-anchor="middle">32</text>
</g>
<g>
<circle cx="718.5" cy="902" r="24.8" fill="#808000" fill-opacity="0.5"/>
<text x="718.5" y="891.4" font-size="10.3" fill="#2F4F4F" stroke="#2F4F4F" stroke-width="0.2" text-anchor="middle">0,86</text>
<text x="718.5" y="905.5" font-size="12.3" font-weight="bold" fill="#000" text-anchor="middle">PS</text>
<text x="718.5" y="918.6" font-size="10.8" fill="#2F4F4F" stroke="#2F4F4F" stroke-width="0.2" text-anchor="middle">33</text>
</g>
<g>
<circle cx="799" cy="716.9" r="21.4" fill="#708090" fill-opacity="0.5"/>
<text x="799" y="706.3" font-size="10.3" fill="#2F4F4F" stroke="#2F4F4F" stroke-width="0.2" text-anchor="middle">1,91</text>
<text x="799" y="720.4" font-size="12.3" font-weight="bold" fill="#000" text-anchor="middle">ZA</text>
<text x="799" y="733.5" font-size="10.8" fill="#2F4F4F" stroke="#2F4F4F" stroke-width="0.2" text-anchor="middle">37</text>
</g>
<g>
<circle cx="775.8" cy="907.2" r="34.2" fill="#DC143C" fill-opacity="0.5"/>
<text x="775.8" y="896.6" font-size="10.3" fill="#2F4F4F" stroke="#2F4F4F" stroke-width="0.2" text-anchor="middle">0,84</text>
<text x="775.8" y="910.7" font-size="12.3" font-weight="bold" fill="#000" text-anchor="middle">JV</text>
<text x="775.8" y="923.8" font-size="10.8" fill="#2F4F4F" stroke="#2F4F4F" stroke-width="0.2" text-anchor="middle">36</text>
</g>
<g>
<circle cx="804.8" cy="887" r="41.3" fill="#00A000" fill-opacity="0.5"/>
<text x="804.8" y="876.4" font-size="10.3" fill="#2F4F4F" stroke="#2F4F4F" stroke-width="0.2" text-anchor="middle">0,95</text>
<text x="804.8" y="890.5" font-size="12.3" font-weight="bold" fill="#000" text-anchor="middle">GO</text>
<text x="804.8" y="903.6" font-size="10.8" fill="#2F4F4F" stroke="#2F4F4F" stroke-width="0.2" text-anchor="middle">37</text>
</g>
<g>
<circle cx="825" cy="821.5" r="51" fill="#A000A0" fill-opacity="0.5"/>
<text x="825" y="810.9" font-size="10.3" fill="#2F4F4F" stroke="#2F4F4F" stroke-width="0.2" text-anchor="middle">1,32</text>
<text x="825" y="825" font-size="12.3" font-weight="bold" fill="#000" text-anchor="middle">PD</text>
<text x="825" y="838.1" font-size="10.8" fill="#2F4F4F" stroke="#2F4F4F" stroke-width="0.2" text-anchor="middle">38</text>
</g>
<g>
<circle cx="818" cy="464.9" r="21.3" fill="#9ACD32" fill-opacity="0.5"/>
<text x="818" y="454.3" font-size="10.3" fill="#2F4F4F" stroke="#2F4F4F" stroke-width="0.2" text-anchor="middle">3,33</text>
<text x="818" y="468.4" font-size="12.3" font-weight="bold" fill="#000" text-anchor="middle">PN</text>
<text x="818" y="481.5" font-size="10.8" fill="#2F4F4F" stroke="#2F4F4F" stroke-width="0.2" text-anchor="middle">38</text>
</g>
<g>
<circle cx="979.1" cy="830.2" r="67.4" fill="#1E90FF" fill-opacity="0.5"/>
<text x="979.1" y="819.6" font-size="10.3" fill="#2F4F4F" stroke="#2F4F4F" stroke-width="0.2" text-anchor="middle">1,27</text>
<text x="979.1" y="833.7" font-size="12.3" font-weight="bold" fill="#000" text-anchor="middle">OS</text>
<text x="979.1" y="846.8" font-size="10.8" fill="#2F4F4F" stroke="#2F4F4F" stroke-width="0.2" text-anchor="middle">45</text>
</g>
<g>
<circle cx="1706" cy="629.2" r="31.3" fill="#20B2AA" fill-opacity="0.5"/>
<text x="1706" y="618.6" font-size="10.3" fill="#2F4F4F" stroke="#2F4F4F" stroke-width="0.2" text-anchor="middle">2,41</text>
<text x="1706" y="632.7" font-size="12.3" font-weight="bold" fill="#000" text-anchor="middle">OK</text>
<text x="1706" y="645.8" font-size="10.8" fill="#2F4F4F" stroke="#2F4F4F" stroke-width="0.2" text-anchor="middle">80</text>
</g>
<line x1="836.6" y1="713" x2="836.6" y2="1013.5" stroke="#505050" stroke-width="1.5" stroke-opacity="0.35"/>
<g opacity="0.72"><rect x="826.5" y="698.8" width="20" height="4.83" fill="#ffffff"/><rect x="826.5" y="703.63" width="20" height="4.83" fill="#0000ff"/><rect x="826.5" y="708.47" width="20" height="4.83" fill="#ff0000"/></g><path d="M829.54,700.68 L833.3,700.68 L833.3,704.11 L833.3,704.11 Q833.3,706.3 831.42,706.92 Q829.54,706.3 829.54,704.11 Z" fill="#0000ff" stroke="#ff2020" stroke-width="0.35"/><path d="M829.99,705.17 L831.42,702.87 L832.85,705.17 L832.55,706.05 Q831.42,706.8 830.29,706.05 Z" fill="#ffffff"/>
<text x="850.3" y="710.3" font-size="11.5" fill="#1F4A48">38,6</text>
<g opacity="0.72"><rect x="826.7" y="1013.9" width="20" height="4.83" fill="#ffffff"/><rect x="826.7" y="1018.73" width="20" height="4.83" fill="#0000ff"/><rect x="826.7" y="1023.57" width="20" height="4.83" fill="#ff0000"/></g><path d="M829.74,1015.78 L833.5,1015.78 L833.5,1019.21 L833.5,1019.21 Q833.5,1021.4 831.62,1022.02 Q829.74,1021.4 829.74,1019.21 Z" fill="#0000ff" stroke="#ff2020" stroke-width="0.35"/><path d="M830.19,1020.27 L831.62,1017.97 L833.05,1020.27 L832.75,1021.15 Q831.62,1021.9 830.49,1021.15 Z" fill="#ffffff"/>
<text x="850.3" y="1026" font-size="11.5" fill="#1F4A48">38,6</text>
<g opacity="1.0"><rect x="48.7" y="1044.7" width="27.5" height="5.83" fill="#ffffff"/><rect x="48.7" y="1050.53" width="27.5" height="5.83" fill="#0000ff"/><rect x="48.7" y="1056.37" width="27.5" height="5.83" fill="#ff0000"/></g><path d="M52.88,1046.98 L58.05,1046.98 L58.05,1051.11 L58.05,1051.11 Q58.05,1053.75 55.47,1054.5 Q52.88,1053.75 52.88,1051.11 Z" fill="#0000ff" stroke="#ff2020" stroke-width="0.35"/><path d="M53.5,1052.39 L55.47,1049.61 L57.43,1052.39 L57.02,1053.45 Q55.47,1054.35 53.91,1053.45 Z" fill="#ffffff"/>
<text x="1812.4" y="52.5" font-size="13" fill="#2F4F4F" stroke="#2F4F4F" stroke-width="0.3" text-anchor="end">aplikacija</text>
<text x="1819.5" y="53.3" font-size="15.5" font-weight="bold" fill="#ffffff" textLength="41.5" lengthAdjust="spacingAndGlyphs">covid</text>
<text x="1818.3" y="51.8" font-size="15.5" font-weight="bold" fill="#0000ff" textLength="41.5" lengthAdjust="spacingAndGlyphs">covid</text>
<text x="1863.2" y="53.3" font-size="15.5" font-weight="bold" fill="#ffffff" textLength="31.7" lengthAdjust="spacingAndGlyphs">SLO</text>
<text x="1862" y="51.8" font-size="15.5" font-weight="bold" fill="#ff0000" textLength="31.7" lengthAdjust="spacingAndGlyphs">SLO</text>
<text x="1893.8" y="69.6" font-size="12.5" fill="#2F4F4F" stroke="#2F4F4F" stroke-width="0.3" text-anchor="end" textLength="155.7" lengthAdjust="spacingAndGlyphs">Peter Malovrh, ©2020-2021</text>
</svg></body></html>
